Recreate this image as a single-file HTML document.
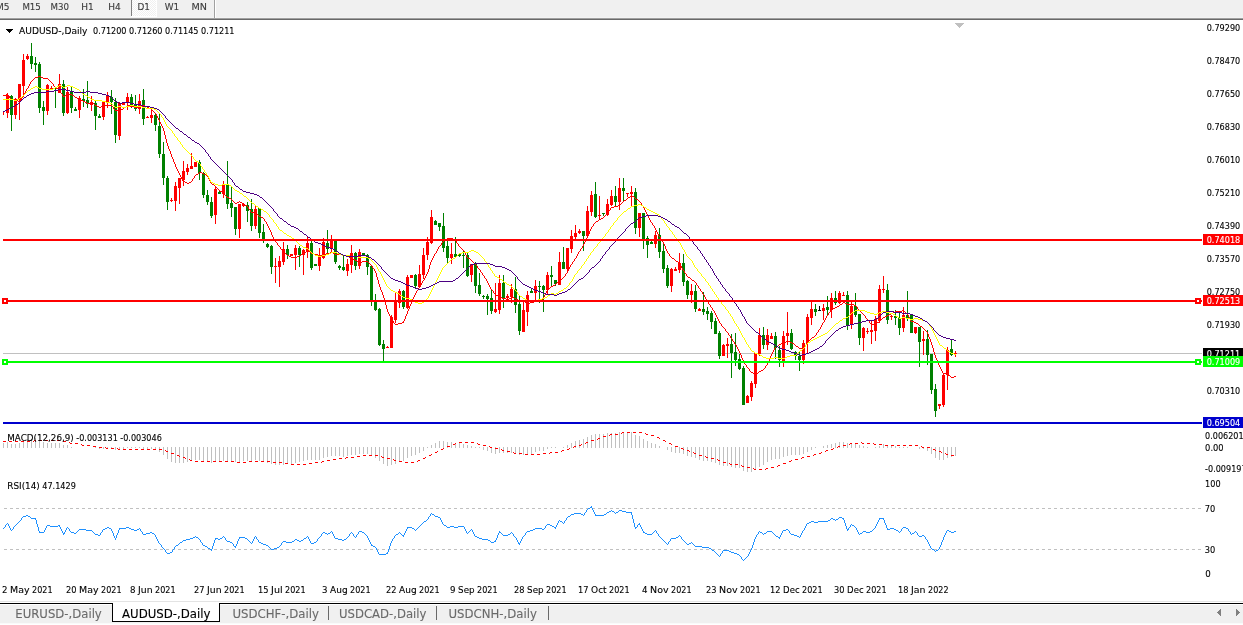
<!DOCTYPE html>
<html><head><meta charset="utf-8"><title>AUDUSD-,Daily</title><style>
html,body{margin:0;padding:0;background:#fff;}
body{width:1243px;height:625px;overflow:hidden;position:relative;font-family:"DejaVu Sans Condensed","Liberation Sans",sans-serif;}
svg{position:absolute;left:0;top:0;display:block;}
svg text{font-family:"DejaVu Sans Condensed","Liberation Sans",sans-serif;font-size:9.2px;white-space:pre;fill:#000;stroke:#000;stroke-width:0.1px;}
svg text.tab{font-size:12.2px;}
</style></head><body>
<svg width="1243" height="625" viewBox="0 0 1243 625">
<rect x="0" y="0" width="1243" height="625" fill="#fff"/>
<defs><pattern id="chk" width="2" height="2" patternUnits="userSpaceOnUse"><rect width="2" height="2" fill="#fff"/><rect width="1" height="1" fill="#f0f0f0"/><rect x="1" y="1" width="1" height="1" fill="#f0f0f0"/></pattern></defs>
<g shape-rendering="crispEdges">
<rect x="0" y="0" width="1243" height="17" fill="#f0f0f0"/>
<rect x="0" y="17" width="1243" height="1" fill="#f3f3f3"/>
<rect x="131" y="0" width="1" height="16" fill="#808080"/>
<rect x="132" y="0" width="24" height="16" fill="url(#chk)"/>
<rect x="156" y="0" width="1" height="17" fill="#fff"/>
<rect x="131" y="16" width="26" height="1" fill="#fff"/>
<rect x="214" y="0" width="1" height="18" fill="#a0a0a0"/>
<rect x="215" y="0" width="1" height="18" fill="#fff"/>
<rect x="0" y="18" width="1243" height="1" fill="#a0a0a0"/>
<rect x="0" y="19" width="1243" height="1" fill="#696969"/>
</g>
<text y="10" style="fill:#3c3c3c;stroke:#3c3c3c"><tspan x="-4" textLength="13.5" lengthAdjust="spacingAndGlyphs">M5</tspan></text>
<text y="10" style="fill:#3c3c3c;stroke:#3c3c3c"><tspan x="22.4" textLength="18.5" lengthAdjust="spacingAndGlyphs">M15</tspan></text>
<text y="10" style="fill:#3c3c3c;stroke:#3c3c3c"><tspan x="50.5" textLength="18.5" lengthAdjust="spacingAndGlyphs">M30</tspan></text>
<text y="10" style="fill:#3c3c3c;stroke:#3c3c3c"><tspan x="81.2" textLength="12.5" lengthAdjust="spacingAndGlyphs">H1</tspan></text>
<text y="10" style="fill:#3c3c3c;stroke:#3c3c3c"><tspan x="108.2" textLength="12.5" lengthAdjust="spacingAndGlyphs">H4</tspan></text>
<text y="10" style="fill:#3c3c3c;stroke:#3c3c3c"><tspan x="137.5" textLength="12.5" lengthAdjust="spacingAndGlyphs">D1</tspan></text>
<text y="10" style="fill:#3c3c3c;stroke:#3c3c3c"><tspan x="164.8" textLength="14.5" lengthAdjust="spacingAndGlyphs">W1</tspan></text>
<text y="10" style="fill:#3c3c3c;stroke:#3c3c3c"><tspan x="191.4" textLength="15.5" lengthAdjust="spacingAndGlyphs">MN</tspan></text>
<path shape-rendering="crispEdges" d="M6 29h7v1h-7zM7 30h5v1h-5zM8 31h3v1h-3zM9 32h1v1h-1z" fill="#000"/>
<text y="34"><tspan x="19" textLength="68.5" lengthAdjust="spacingAndGlyphs">AUDUSD-,Daily</tspan> <tspan x="93" textLength="33.5" lengthAdjust="spacingAndGlyphs">0.71200</tspan> <tspan x="129" textLength="33.5" lengthAdjust="spacingAndGlyphs">0.71260</tspan> <tspan x="165" textLength="33.5" lengthAdjust="spacingAndGlyphs">0.71145</tspan> <tspan x="201" textLength="33.5" lengthAdjust="spacingAndGlyphs">0.71211</tspan></text>
<path shape-rendering="crispEdges" d="M955 23h9v1h-9zM956 24h7v1h-7zM957 25h5v1h-5zM958 26h3v1h-3zM959 27h1v1h-1z" fill="#c0c0c0"/>
<text y="31"><tspan x="1206.7" textLength="33.5" lengthAdjust="spacingAndGlyphs">0.79290</tspan></text>
<text y="64"><tspan x="1206.7" textLength="33.5" lengthAdjust="spacingAndGlyphs">0.78470</tspan></text>
<text y="97"><tspan x="1206.7" textLength="33.5" lengthAdjust="spacingAndGlyphs">0.77650</tspan></text>
<text y="130"><tspan x="1206.7" textLength="33.5" lengthAdjust="spacingAndGlyphs">0.76830</tspan></text>
<text y="163"><tspan x="1206.7" textLength="33.5" lengthAdjust="spacingAndGlyphs">0.76010</tspan></text>
<text y="196"><tspan x="1206.7" textLength="33.5" lengthAdjust="spacingAndGlyphs">0.75210</tspan></text>
<text y="229"><tspan x="1206.7" textLength="33.5" lengthAdjust="spacingAndGlyphs">0.74390</tspan></text>
<text y="262"><tspan x="1206.7" textLength="33.5" lengthAdjust="spacingAndGlyphs">0.73570</tspan></text>
<text y="295"><tspan x="1206.7" textLength="33.5" lengthAdjust="spacingAndGlyphs">0.72750</tspan></text>
<text y="328"><tspan x="1206.7" textLength="33.5" lengthAdjust="spacingAndGlyphs">0.71930</tspan></text>
<text y="394"><tspan x="1206.7" textLength="33.5" lengthAdjust="spacingAndGlyphs">0.70310</tspan></text>
<g shape-rendering="crispEdges">
<rect x="3" y="353" width="1199" height="1" fill="#c0c0c0"/>
</g>
<g shape-rendering="crispEdges">
<path fill="#ff0000" d="M3 111h1v4h-1zM7 93h1v25h-1zM6 95h3v18h-3zM15 98h1v21h-1zM14 99h3v16h-3zM19 84h1v36h-1zM18 84h3v16h-3zM23 54h1v43h-1zM22 60h3v26h-3zM27 54h1v6h-1zM26 56h3v3h-3zM47 84h1v31h-1zM46 85h3v26h-3zM51 86h1v3h-1zM50 88h3v1h-3zM59 74h1v19h-1zM58 84h3v9h-3zM67 87h1v27h-1zM66 92h3v21h-3zM79 96h1v22h-1zM78 98h3v12h-3zM91 96h1v15h-1zM90 102h3v3h-3zM103 101h1v19h-1zM102 102h3v15h-3zM107 92h1v16h-1zM106 96h3v6h-3zM119 102h1v38h-1zM118 103h3v33h-3zM123 102h1v3h-1zM122 103h3v2h-3zM127 93h1v17h-1zM126 97h3v6h-3zM139 94h1v20h-1zM138 101h3v8h-3zM147 116h1v2h-1zM146 117h3v1h-3zM151 109h1v14h-1zM150 115h3v3h-3zM171 198h1v4h-1zM170 200h3v1h-3zM175 182h1v29h-1zM174 186h3v15h-3zM179 178h1v26h-1zM178 178h3v10h-3zM183 161h1v25h-1zM182 171h3v9h-3zM187 164h1v11h-1zM186 168h3v4h-3zM191 153h1v16h-1zM190 166h3v3h-3zM195 162h1v5h-1zM194 162h3v5h-3zM215 186h1v38h-1zM214 189h3v26h-3zM223 181h1v17h-1zM222 185h3v9h-3zM239 204h1v34h-1zM238 204h3v25h-3zM243 203h1v4h-1zM242 204h3v2h-3zM255 206h1v23h-1zM254 209h3v17h-3zM275 258h1v25h-1zM274 266h3v1h-3zM279 256h1v31h-1zM278 261h3v6h-3zM283 242h1v23h-1zM282 249h3v13h-3zM291 254h1v2h-1zM290 254h3v2h-3zM295 245h1v25h-1zM294 248h3v7h-3zM303 249h1v26h-1zM302 250h3v5h-3zM307 237h1v21h-1zM306 243h3v9h-3zM319 248h1v23h-1zM318 255h3v11h-3zM323 238h1v21h-1zM322 242h3v16h-3zM331 235h1v17h-1zM330 241h3v8h-3zM347 259h1v17h-1zM346 264h3v7h-3zM351 245h1v28h-1zM350 253h3v12h-3zM359 249h1v20h-1zM358 252h3v14h-3zM387 346h1v2h-1zM386 347h3v1h-3zM391 315h1v33h-1zM390 317h3v31h-3zM395 293h1v30h-1zM394 302h3v18h-3zM399 289h1v19h-1zM398 291h3v12h-3zM407 275h1v34h-1zM406 277h3v31h-3zM411 275h1v3h-1zM410 275h3v3h-3zM419 265h1v23h-1zM418 274h3v13h-3zM423 248h1v31h-1zM422 255h3v20h-3zM427 237h1v23h-1zM426 242h3v13h-3zM431 210h1v34h-1zM430 217h3v26h-3zM451 243h1v21h-1zM450 254h3v4h-3zM471 264h1v18h-1zM470 264h3v11h-3zM495 283h1v30h-1zM494 309h3v3h-3zM499 275h1v39h-1zM498 283h3v27h-3zM507 294h1v6h-1zM506 296h3v2h-3zM511 284h1v19h-1zM510 289h3v8h-3zM523 302h1v30h-1zM522 310h3v22h-3zM527 291h1v35h-1zM526 295h3v17h-3zM535 280h1v20h-1zM534 286h3v7h-3zM547 272h1v22h-1zM546 275h3v15h-3zM559 252h1v33h-1zM558 262h3v23h-3zM567 248h1v23h-1zM566 248h3v21h-3zM571 230h1v23h-1zM570 236h3v13h-3zM575 225h1v14h-1zM574 233h3v4h-3zM579 229h1v5h-1zM578 231h3v2h-3zM587 206h1v31h-1zM586 211h3v25h-3zM591 191h1v25h-1zM590 195h3v17h-3zM599 196h1v23h-1zM598 215h3v1h-3zM607 199h1v17h-1zM606 204h3v11h-3zM611 190h1v16h-1zM610 196h3v9h-3zM619 178h1v32h-1zM618 188h3v14h-3zM627 193h1v4h-1zM626 193h3v1h-3zM631 186h1v20h-1zM630 192h3v2h-3zM639 213h1v24h-1zM638 213h3v15h-3zM655 231h1v17h-1zM654 235h3v9h-3zM671 268h1v24h-1zM670 269h3v17h-3zM675 267h1v4h-1zM674 269h3v2h-3zM679 253h1v20h-1zM678 263h3v7h-3zM691 284h1v19h-1zM690 291h3v4h-3zM699 308h1v3h-1zM698 309h3v2h-3zM723 344h1v12h-1zM722 345h3v11h-3zM727 338h1v20h-1zM726 344h3v2h-3zM747 395h1v8h-1zM746 396h3v7h-3zM751 381h1v20h-1zM750 383h3v14h-3zM755 353h1v35h-1zM754 353h3v31h-3zM759 328h1v28h-1zM758 335h3v19h-3zM767 329h1v21h-1zM766 335h3v10h-3zM771 333h1v6h-1zM770 336h3v3h-3zM783 331h1v36h-1zM782 336h3v25h-3zM787 312h1v33h-1zM786 333h3v3h-3zM803 340h1v24h-1zM802 343h3v17h-3zM807 314h1v40h-1zM806 317h3v26h-3zM811 302h1v23h-1zM810 309h3v9h-3zM823 304h1v16h-1zM822 308h3v3h-3zM831 293h1v25h-1zM830 298h3v12h-3zM839 291h1v13h-1zM838 293h3v10h-3zM843 292h1v4h-1zM842 295h3v1h-3zM851 302h1v27h-1zM850 306h3v18h-3zM863 327h1v24h-1zM862 328h3v10h-3zM867 328h1v6h-1zM866 331h3v1h-3zM871 321h1v23h-1zM870 330h3v2h-3zM875 316h1v25h-1zM874 319h3v12h-3zM879 285h1v38h-1zM878 289h3v32h-3zM883 276h1v17h-1zM882 289h3v1h-3zM891 315h1v5h-1zM890 316h3v1h-3zM903 307h1v25h-1zM902 315h3v13h-3zM915 327h1v7h-1zM914 327h3v6h-3zM923 331h1v24h-1zM922 339h3v2h-3zM939 404h1v5h-1zM938 404h3v2h-3zM943 374h1v33h-1zM942 375h3v30h-3zM947 347h1v43h-1zM946 350h3v25h-3zM955 351h1v6h-1zM954 353h3v1h-3z"/>
<path fill="#008000" d="M11 95h1v36h-1zM10 96h3v19h-3zM31 43h1v26h-1zM30 56h3v8h-3zM35 57h1v15h-1zM34 63h3v2h-3zM39 62h1v51h-1zM38 64h3v44h-3zM43 101h1v24h-1zM42 107h3v4h-3zM55 88h1v20h-1zM54 88h3v1h-3zM63 80h1v36h-1zM62 84h3v29h-3zM71 87h1v26h-1zM70 91h3v17h-3zM75 107h1v4h-1zM74 109h3v2h-3zM83 89h1v18h-1zM82 99h3v2h-3zM87 81h1v27h-1zM86 100h3v4h-3zM95 101h1v29h-1zM94 103h3v13h-3zM99 114h1v4h-1zM98 116h3v2h-3zM111 90h1v24h-1zM110 97h3v5h-3zM115 98h1v45h-1zM114 102h3v33h-3zM131 94h1v14h-1zM130 97h3v9h-3zM135 95h1v16h-1zM134 105h3v4h-3zM143 89h1v36h-1zM142 100h3v19h-3zM155 114h1v17h-1zM154 115h3v10h-3zM159 114h1v44h-1zM158 126h3v28h-3zM163 142h1v43h-1zM162 154h3v24h-3zM167 176h1v34h-1zM166 178h3v24h-3zM199 160h1v20h-1zM198 162h3v11h-3zM203 172h1v26h-1zM202 173h3v22h-3zM207 190h1v15h-1zM206 195h3v7h-3zM211 197h1v21h-1zM210 202h3v14h-3zM219 191h1v3h-1zM218 192h3v2h-3zM227 161h1v48h-1zM226 184h3v20h-3zM231 186h1v31h-1zM230 203h3v5h-3zM235 207h1v28h-1zM234 207h3v22h-3zM247 202h1v20h-1zM246 205h3v6h-3zM251 199h1v32h-1zM250 209h3v17h-3zM259 208h1v30h-1zM258 208h3v25h-3zM263 224h1v19h-1zM262 232h3v9h-3zM267 243h1v5h-1zM266 244h3v3h-3zM271 245h1v29h-1zM270 246h3v21h-3zM287 245h1v14h-1zM286 249h3v6h-3zM299 246h1v21h-1zM298 248h3v7h-3zM311 241h1v29h-1zM310 243h3v25h-3zM315 264h1v2h-1zM314 264h3v2h-3zM327 230h1v23h-1zM326 243h3v6h-3zM335 241h1v23h-1zM334 241h3v21h-3zM339 265h1v5h-1zM338 266h3v2h-3zM343 255h1v16h-1zM342 267h3v3h-3zM355 252h1v18h-1zM354 253h3v13h-3zM363 253h1v3h-1zM362 253h3v2h-3zM367 254h1v21h-1zM366 255h3v12h-3zM371 266h1v40h-1zM370 266h3v34h-3zM375 294h1v17h-1zM374 302h3v8h-3zM379 308h1v38h-1zM378 309h3v36h-3zM383 340h1v21h-1zM382 344h3v5h-3zM403 290h1v19h-1zM402 291h3v16h-3zM415 274h1v14h-1zM414 275h3v11h-3zM435 220h1v5h-1zM434 221h3v4h-3zM439 223h1v8h-1zM438 223h3v4h-3zM443 213h1v39h-1zM442 226h3v22h-3zM447 239h1v24h-1zM446 246h3v12h-3zM455 237h1v20h-1zM454 254h3v3h-3zM459 253h1v4h-1zM458 254h3v2h-3zM463 251h1v17h-1zM462 255h3v1h-3zM467 253h1v24h-1zM466 255h3v21h-3zM475 262h1v31h-1zM474 264h3v22h-3zM479 273h1v23h-1zM478 285h3v9h-3zM483 295h1v4h-1zM482 296h3v1h-3zM487 294h1v21h-1zM486 296h3v3h-3zM491 289h1v25h-1zM490 298h3v13h-3zM503 275h1v33h-1zM502 283h3v15h-3zM515 277h1v36h-1zM514 289h3v16h-3zM519 296h1v39h-1zM518 304h3v27h-3zM531 289h1v4h-1zM530 291h3v2h-3zM539 281h1v22h-1zM538 286h3v1h-3zM543 285h1v27h-1zM542 286h3v4h-3zM551 266h1v21h-1zM550 275h3v2h-3zM555 280h1v6h-1zM554 280h3v4h-3zM563 247h1v22h-1zM562 262h3v7h-3zM583 231h1v20h-1zM582 231h3v5h-3zM595 182h1v36h-1zM594 194h3v23h-3zM603 213h1v3h-1zM602 213h3v1h-3zM615 186h1v20h-1zM614 196h3v6h-3zM623 178h1v23h-1zM622 188h3v3h-3zM635 188h1v46h-1zM634 192h3v36h-3zM643 213h1v36h-1zM642 213h3v26h-3zM647 236h1v22h-1zM646 238h3v7h-3zM651 241h1v3h-1zM650 242h3v2h-3zM659 228h1v30h-1zM658 235h3v17h-3zM663 243h1v30h-1zM662 251h3v18h-3zM667 265h1v23h-1zM666 268h3v18h-3zM683 254h1v32h-1zM682 263h3v19h-3zM687 280h1v19h-1zM686 281h3v14h-3zM695 285h1v27h-1zM694 291h3v18h-3zM703 292h1v23h-1zM702 309h3v3h-3zM707 307h1v13h-1zM706 311h3v3h-3zM711 311h1v18h-1zM710 313h3v9h-3zM715 318h1v16h-1zM714 321h3v13h-3zM719 331h1v28h-1zM718 333h3v23h-3zM731 334h1v44h-1zM730 344h3v9h-3zM735 333h1v33h-1zM734 352h3v8h-3zM739 354h1v16h-1zM738 359h3v10h-3zM743 366h1v39h-1zM742 368h3v37h-3zM763 327h1v22h-1zM762 335h3v10h-3zM775 332h1v27h-1zM774 336h3v12h-3zM779 346h1v21h-1zM778 350h3v10h-3zM791 329h1v21h-1zM790 333h3v16h-3zM795 351h1v9h-1zM794 352h3v4h-3zM799 351h1v20h-1zM798 356h3v4h-3zM815 304h1v12h-1zM814 309h3v3h-3zM827 296h1v19h-1zM826 307h3v3h-3zM835 291h1v14h-1zM834 298h3v5h-3zM847 291h1v39h-1zM846 295h3v30h-3zM855 293h1v24h-1zM854 306h3v9h-3zM859 314h1v31h-1zM858 314h3v24h-3zM887 284h1v40h-1zM886 290h3v30h-3zM895 310h1v15h-1zM894 316h3v2h-3zM899 313h1v22h-1zM898 318h3v10h-3zM907 291h1v30h-1zM906 315h3v3h-3zM911 314h1v19h-1zM910 314h3v19h-3zM919 327h1v40h-1zM918 327h3v15h-3zM927 330h1v35h-1zM926 339h3v16h-3zM931 354h1v40h-1zM930 354h3v36h-3zM935 384h1v33h-1zM934 389h3v22h-3zM951 340h1v16h-1zM950 349h3v6h-3z"/>
<path fill="#000000" d="M819 306h1v5h-1zM818 310h3v1h-3z"/>
<path fill="#ff0000" d="M9 96h1v2h-1zM21 98h1v2h-1zM23 95h1v2h-1zM24 93h1v2h-1zM25 91h1v2h-1zM26 89h1v2h-1zM28 86h1v2h-1zM29 84h1v2h-1zM30 82h1v2h-1zM53 84h1v2h-1zM60 91h1v2h-1zM62 94h1v2h-1zM113 107h1v2h-1zM156 114h1v2h-1zM157 116h1v2h-1zM158 118h1v2h-1zM159 120h1v2h-1zM160 122h1v2h-1zM161 124h1v2h-1zM162 126h1v2h-1zM163 128h1v3h-1zM164 131h1v4h-1zM165 135h1v4h-1zM166 139h1v4h-1zM167 143h1v3h-1zM168 146h1v3h-1zM169 149h1v2h-1zM170 151h1v3h-1zM171 154h1v3h-1zM172 157h1v2h-1zM173 159h1v3h-1zM174 162h1v2h-1zM175 164h1v3h-1zM176 167h1v2h-1zM177 169h1v2h-1zM178 171h1v2h-1zM179 173h1v2h-1zM180 175h1v2h-1zM181 177h1v2h-1zM182 179h1v2h-1zM192 179h1v2h-1zM194 176h1v2h-1zM208 177h1v2h-1zM209 179h1v2h-1zM210 181h1v2h-1zM248 207h1v2h-1zM250 210h1v2h-1zM264 219h1v2h-1zM266 222h1v2h-1zM267 224h1v2h-1zM268 226h1v2h-1zM269 228h1v2h-1zM270 230h1v2h-1zM271 232h1v3h-1zM272 235h1v2h-1zM273 237h1v2h-1zM274 239h1v2h-1zM277 243h1v2h-1zM280 247h1v2h-1zM282 250h1v2h-1zM372 266h1v2h-1zM374 269h1v2h-1zM375 271h1v2h-1zM376 273h1v4h-1zM377 277h1v3h-1zM378 280h1v4h-1zM379 284h1v3h-1zM380 287h1v3h-1zM381 290h1v2h-1zM382 292h1v3h-1zM383 295h1v3h-1zM384 298h1v4h-1zM385 302h1v3h-1zM386 305h1v4h-1zM387 309h1v3h-1zM388 312h1v2h-1zM389 314h1v2h-1zM390 316h1v2h-1zM391 318h1v2h-1zM393 321h1v2h-1zM403 321h1v2h-1zM404 319h1v2h-1zM405 316h1v3h-1zM406 314h1v2h-1zM407 311h1v3h-1zM408 309h1v2h-1zM409 306h1v3h-1zM410 304h1v2h-1zM411 301h1v3h-1zM412 299h1v2h-1zM413 297h1v2h-1zM414 295h1v2h-1zM415 293h1v2h-1zM416 291h1v2h-1zM418 288h1v2h-1zM420 285h1v2h-1zM421 283h1v2h-1zM422 281h1v2h-1zM424 278h1v2h-1zM425 276h1v2h-1zM426 274h1v2h-1zM427 272h1v2h-1zM428 269h1v3h-1zM429 265h1v4h-1zM430 262h1v3h-1zM431 260h1v2h-1zM432 258h1v2h-1zM433 256h1v2h-1zM434 254h1v2h-1zM436 251h1v2h-1zM437 249h1v2h-1zM438 247h1v2h-1zM441 243h1v2h-1zM456 241h1v2h-1zM458 244h1v2h-1zM464 251h1v2h-1zM465 253h1v2h-1zM466 255h1v2h-1zM477 266h1v2h-1zM480 270h1v2h-1zM482 273h1v2h-1zM484 276h1v2h-1zM486 279h1v2h-1zM487 281h1v2h-1zM488 283h1v2h-1zM489 285h1v2h-1zM490 287h1v2h-1zM493 291h1v2h-1zM543 297h1v2h-1zM544 295h1v2h-1zM545 293h1v2h-1zM546 291h1v2h-1zM565 274h1v2h-1zM567 271h1v2h-1zM568 269h1v2h-1zM569 267h1v2h-1zM570 265h1v2h-1zM572 262h1v2h-1zM574 259h1v2h-1zM576 256h1v2h-1zM577 254h1v2h-1zM578 252h1v2h-1zM580 249h1v2h-1zM582 246h1v2h-1zM583 244h1v2h-1zM584 242h1v2h-1zM585 240h1v2h-1zM586 238h1v2h-1zM587 236h1v2h-1zM588 234h1v2h-1zM589 231h1v3h-1zM590 229h1v2h-1zM591 227h1v2h-1zM593 224h1v2h-1zM608 211h1v2h-1zM610 208h1v2h-1zM641 203h1v2h-1zM643 206h1v2h-1zM644 208h1v2h-1zM645 210h1v2h-1zM646 212h1v2h-1zM647 214h1v2h-1zM648 216h1v2h-1zM649 218h1v2h-1zM650 220h1v2h-1zM652 223h1v2h-1zM654 226h1v2h-1zM655 228h1v2h-1zM656 230h1v2h-1zM657 232h1v2h-1zM658 234h1v2h-1zM660 237h1v2h-1zM662 240h1v2h-1zM663 242h1v2h-1zM664 244h1v2h-1zM665 246h1v3h-1zM666 249h1v2h-1zM667 251h1v2h-1zM669 254h1v2h-1zM680 264h1v2h-1zM681 266h1v2h-1zM682 268h1v2h-1zM684 271h1v2h-1zM686 274h1v2h-1zM696 283h1v2h-1zM698 286h1v2h-1zM700 289h1v2h-1zM702 292h1v2h-1zM704 295h1v2h-1zM705 297h1v2h-1zM706 299h1v2h-1zM708 302h1v2h-1zM710 305h1v2h-1zM712 308h1v2h-1zM714 311h1v2h-1zM715 313h1v2h-1zM716 315h1v2h-1zM717 317h1v2h-1zM718 319h1v2h-1zM719 321h1v2h-1zM721 324h1v2h-1zM725 329h1v2h-1zM728 333h1v2h-1zM730 336h1v2h-1zM732 339h1v2h-1zM734 342h1v2h-1zM736 345h1v2h-1zM737 347h1v2h-1zM738 349h1v2h-1zM739 351h1v2h-1zM740 353h1v2h-1zM741 355h1v3h-1zM742 358h1v2h-1zM743 360h1v2h-1zM744 362h1v2h-1zM746 365h1v2h-1zM749 369h1v2h-1zM765 366h1v2h-1zM767 363h1v2h-1zM768 361h1v2h-1zM769 358h1v3h-1zM770 356h1v2h-1zM771 354h1v2h-1zM772 352h1v2h-1zM773 350h1v2h-1zM774 348h1v2h-1zM804 346h1v2h-1zM806 343h1v2h-1zM816 333h1v2h-1zM818 330h1v2h-1zM820 327h1v2h-1zM821 325h1v2h-1zM822 323h1v2h-1zM824 320h1v2h-1zM825 318h1v2h-1zM826 316h1v2h-1zM828 313h1v2h-1zM830 310h1v2h-1zM857 307h1v2h-1zM865 316h1v2h-1zM869 321h1v2h-1zM908 315h1v2h-1zM909 317h1v2h-1zM910 319h1v2h-1zM927 332h1v2h-1zM928 334h1v3h-1zM929 337h1v2h-1zM930 339h1v3h-1zM931 342h1v3h-1zM932 345h1v3h-1zM933 348h1v4h-1zM934 352h1v3h-1zM935 355h1v3h-1zM936 358h1v2h-1zM937 360h1v3h-1zM938 363h1v2h-1zM939 365h1v2h-1zM940 367h1v2h-1zM941 369h1v2h-1zM942 371h1v2h-1zM38 76h3v1h-3zM35 77h3v1h-3zM41 77h2v1h-2zM34 78h1v1h-1zM43 78h5v1h-5zM33 79h1v1h-1zM48 79h1v1h-1zM32 80h1v1h-1zM49 80h1v1h-1zM31 81h1v1h-1zM50 81h1v1h-1zM51 82h1v1h-1zM52 83h1v1h-1zM54 86h1v1h-1zM55 87h1v1h-1zM27 88h1v1h-1zM56 88h2v1h-2zM58 89h1v1h-1zM59 90h1v1h-1zM61 93h1v1h-1zM6 94h2v1h-2zM67 94h5v1h-5zM3 95h3v1h-3zM8 95h1v1h-1zM65 95h2v1h-2zM72 95h2v1h-2zM63 96h2v1h-2zM74 96h1v1h-1zM22 97h1v1h-1zM75 97h2v1h-2zM10 98h1v1h-1zM77 98h2v1h-2zM11 99h3v1h-3zM79 99h2v1h-2zM14 100h4v1h-4zM20 100h1v1h-1zM81 100h2v1h-2zM18 101h2v1h-2zM83 101h2v1h-2zM85 102h2v1h-2zM90 102h2v1h-2zM87 103h3v1h-3zM92 103h2v1h-2zM94 104h1v1h-1zM95 105h2v1h-2zM103 105h9v1h-9zM127 105h3v1h-3zM143 105h2v1h-2zM97 106h2v1h-2zM101 106h2v1h-2zM112 106h1v1h-1zM126 106h1v1h-1zM130 106h4v1h-4zM141 106h2v1h-2zM145 106h2v1h-2zM99 107h2v1h-2zM124 107h2v1h-2zM134 107h7v1h-7zM147 107h2v1h-2zM123 108h1v1h-1zM149 108h2v1h-2zM114 109h1v1h-1zM121 109h2v1h-2zM151 109h1v1h-1zM115 110h6v1h-6zM152 110h1v1h-1zM153 111h1v1h-1zM154 112h1v1h-1zM155 113h1v1h-1zM199 172h3v1h-3zM198 173h1v1h-1zM202 173h2v1h-2zM196 174h2v1h-2zM204 174h2v1h-2zM195 175h1v1h-1zM206 175h1v1h-1zM207 176h1v1h-1zM193 178h1v1h-1zM183 181h2v1h-2zM191 181h1v1h-1zM185 182h2v1h-2zM189 182h2v1h-2zM187 183h2v1h-2zM211 183h1v1h-1zM212 184h2v1h-2zM214 185h1v1h-1zM215 186h1v1h-1zM216 187h1v1h-1zM217 188h1v1h-1zM218 189h1v1h-1zM219 190h1v1h-1zM220 191h2v1h-2zM222 192h1v1h-1zM223 193h1v1h-1zM224 194h1v1h-1zM225 195h1v1h-1zM631 195h1v1h-1zM226 196h1v1h-1zM630 196h1v1h-1zM632 196h2v1h-2zM227 197h2v1h-2zM628 197h2v1h-2zM634 197h1v1h-1zM229 198h2v1h-2zM627 198h1v1h-1zM635 198h1v1h-1zM231 199h1v1h-1zM626 199h1v1h-1zM636 199h2v1h-2zM232 200h1v1h-1zM624 200h2v1h-2zM638 200h1v1h-1zM233 201h1v1h-1zM239 201h1v1h-1zM623 201h1v1h-1zM639 201h1v1h-1zM234 202h1v1h-1zM237 202h2v1h-2zM240 202h2v1h-2zM622 202h1v1h-1zM640 202h1v1h-1zM235 203h2v1h-2zM242 203h1v1h-1zM621 203h1v1h-1zM243 204h2v1h-2zM620 204h1v1h-1zM245 205h2v1h-2zM618 205h2v1h-2zM642 205h1v1h-1zM247 206h1v1h-1zM614 206h4v1h-4zM611 207h3v1h-3zM249 209h1v1h-1zM609 210h1v1h-1zM251 212h3v1h-3zM254 213h2v1h-2zM607 213h1v1h-1zM256 214h2v1h-2zM606 214h1v1h-1zM258 215h1v1h-1zM605 215h1v1h-1zM259 216h2v1h-2zM604 216h1v1h-1zM261 217h2v1h-2zM603 217h1v1h-1zM263 218h1v1h-1zM601 218h2v1h-2zM599 219h2v1h-2zM598 220h1v1h-1zM265 221h1v1h-1zM596 221h2v1h-2zM595 222h1v1h-1zM651 222h1v1h-1zM594 223h1v1h-1zM653 225h1v1h-1zM592 226h1v1h-1zM659 236h1v1h-1zM447 238h6v1h-6zM446 239h1v1h-1zM453 239h2v1h-2zM661 239h1v1h-1zM444 240h2v1h-2zM455 240h1v1h-1zM275 241h1v1h-1zM443 241h1v1h-1zM276 242h1v1h-1zM442 242h1v1h-1zM457 243h1v1h-1zM278 245h1v1h-1zM440 245h1v1h-1zM279 246h1v1h-1zM439 246h1v1h-1zM459 246h1v1h-1zM460 247h1v1h-1zM461 248h1v1h-1zM581 248h1v1h-1zM281 249h1v1h-1zM462 249h1v1h-1zM307 250h1v1h-1zM463 250h1v1h-1zM306 251h1v1h-1zM308 251h2v1h-2zM579 251h1v1h-1zM283 252h1v1h-1zM304 252h2v1h-2zM310 252h1v1h-1zM330 252h3v1h-3zM284 253h2v1h-2zM303 253h1v1h-1zM311 253h3v1h-3zM326 253h4v1h-4zM333 253h2v1h-2zM435 253h1v1h-1zM668 253h1v1h-1zM286 254h1v1h-1zM301 254h2v1h-2zM314 254h4v1h-4zM322 254h4v1h-4zM335 254h7v1h-7zM287 255h2v1h-2zM299 255h2v1h-2zM318 255h4v1h-4zM342 255h4v1h-4zM289 256h2v1h-2zM297 256h2v1h-2zM346 256h3v1h-3zM670 256h1v1h-1zM291 257h6v1h-6zM349 257h2v1h-2zM467 257h1v1h-1zM671 257h1v1h-1zM351 258h2v1h-2zM468 258h2v1h-2zM575 258h1v1h-1zM672 258h2v1h-2zM353 259h2v1h-2zM470 259h1v1h-1zM674 259h1v1h-1zM355 260h2v1h-2zM471 260h1v1h-1zM675 260h1v1h-1zM357 261h2v1h-2zM362 261h6v1h-6zM472 261h1v1h-1zM573 261h1v1h-1zM676 261h2v1h-2zM359 262h3v1h-3zM368 262h1v1h-1zM473 262h1v1h-1zM678 262h1v1h-1zM369 263h1v1h-1zM474 263h1v1h-1zM679 263h1v1h-1zM370 264h1v1h-1zM475 264h1v1h-1zM571 264h1v1h-1zM371 265h1v1h-1zM476 265h1v1h-1zM373 268h1v1h-1zM478 268h1v1h-1zM479 269h1v1h-1zM683 270h1v1h-1zM481 272h1v1h-1zM566 273h1v1h-1zM685 273h1v1h-1zM483 275h1v1h-1zM564 276h1v1h-1zM687 276h1v1h-1zM563 277h1v1h-1zM688 277h2v1h-2zM485 278h1v1h-1zM562 278h1v1h-1zM690 278h1v1h-1zM560 279h2v1h-2zM691 279h1v1h-1zM423 280h1v1h-1zM559 280h1v1h-1zM692 280h2v1h-2zM558 281h1v1h-1zM694 281h1v1h-1zM557 282h1v1h-1zM695 282h1v1h-1zM556 283h1v1h-1zM555 284h1v1h-1zM553 285h2v1h-2zM697 285h1v1h-1zM551 286h2v1h-2zM419 287h1v1h-1zM550 287h1v1h-1zM549 288h1v1h-1zM699 288h1v1h-1zM491 289h1v1h-1zM548 289h1v1h-1zM417 290h1v1h-1zM492 290h1v1h-1zM547 290h1v1h-1zM701 291h1v1h-1zM494 293h1v1h-1zM495 294h1v1h-1zM703 294h1v1h-1zM496 295h2v1h-2zM498 296h1v1h-1zM499 297h3v1h-3zM511 297h3v1h-3zM502 298h4v1h-4zM509 298h2v1h-2zM514 298h2v1h-2zM506 299h3v1h-3zM516 299h2v1h-2zM542 299h1v1h-1zM518 300h1v1h-1zM540 300h2v1h-2zM519 301h6v1h-6zM534 301h6v1h-6zM707 301h1v1h-1zM525 302h2v1h-2zM530 302h4v1h-4zM843 302h2v1h-2zM527 303h3v1h-3zM842 303h1v1h-1zM845 303h2v1h-2zM709 304h1v1h-1zM840 304h2v1h-2zM847 304h7v1h-7zM839 305h1v1h-1zM854 305h2v1h-2zM837 306h2v1h-2zM856 306h1v1h-1zM711 307h1v1h-1zM835 307h2v1h-2zM833 308h2v1h-2zM831 309h2v1h-2zM858 309h1v1h-1zM713 310h1v1h-1zM859 310h1v1h-1zM902 310h2v1h-2zM860 311h1v1h-1zM895 311h7v1h-7zM904 311h1v1h-1zM829 312h1v1h-1zM861 312h1v1h-1zM893 312h2v1h-2zM905 312h1v1h-1zM862 313h1v1h-1zM891 313h2v1h-2zM906 313h1v1h-1zM863 314h1v1h-1zM889 314h2v1h-2zM907 314h1v1h-1zM827 315h1v1h-1zM864 315h1v1h-1zM887 315h2v1h-2zM885 316h2v1h-2zM883 317h2v1h-2zM866 318h1v1h-1zM882 318h1v1h-1zM867 319h1v1h-1zM881 319h1v1h-1zM392 320h1v1h-1zM868 320h1v1h-1zM880 320h1v1h-1zM879 321h1v1h-1zM911 321h3v1h-3zM402 322h1v1h-1zM823 322h1v1h-1zM877 322h2v1h-2zM914 322h2v1h-2zM394 323h1v1h-1zM398 323h4v1h-4zM720 323h1v1h-1zM870 323h1v1h-1zM874 323h3v1h-3zM916 323h2v1h-2zM395 324h3v1h-3zM871 324h3v1h-3zM918 324h1v1h-1zM919 325h1v1h-1zM722 326h1v1h-1zM920 326h2v1h-2zM723 327h1v1h-1zM922 327h1v1h-1zM724 328h1v1h-1zM923 328h1v1h-1zM819 329h1v1h-1zM924 329h1v1h-1zM925 330h1v1h-1zM726 331h1v1h-1zM926 331h1v1h-1zM727 332h1v1h-1zM817 332h1v1h-1zM729 335h1v1h-1zM815 335h1v1h-1zM814 336h1v1h-1zM812 337h2v1h-2zM731 338h1v1h-1zM811 338h1v1h-1zM810 339h1v1h-1zM809 340h1v1h-1zM733 341h1v1h-1zM786 341h4v1h-4zM808 341h1v1h-1zM783 342h3v1h-3zM790 342h2v1h-2zM807 342h1v1h-1zM781 343h2v1h-2zM792 343h2v1h-2zM735 344h1v1h-1zM779 344h2v1h-2zM794 344h1v1h-1zM778 345h1v1h-1zM795 345h1v1h-1zM805 345h1v1h-1zM776 346h2v1h-2zM796 346h2v1h-2zM775 347h1v1h-1zM798 347h1v1h-1zM799 348h5v1h-5zM745 364h1v1h-1zM766 365h1v1h-1zM747 367h1v1h-1zM748 368h1v1h-1zM764 368h1v1h-1zM763 369h1v1h-1zM761 370h2v1h-2zM750 371h1v1h-1zM759 371h2v1h-2zM751 372h2v1h-2zM758 372h1v1h-1zM753 373h2v1h-2zM756 373h2v1h-2zM943 373h3v1h-3zM755 374h1v1h-1zM946 374h2v1h-2zM948 375h2v1h-2zM950 376h1v1h-1zM954 376h2v1h-2zM951 377h3v1h-3z"/>
<path fill="#ffff00" d="M161 115h1v2h-1zM163 118h1v2h-1zM164 120h1v2h-1zM165 122h1v2h-1zM166 124h1v2h-1zM172 131h1v2h-1zM174 134h1v2h-1zM177 138h1v2h-1zM180 142h1v2h-1zM182 145h1v2h-1zM193 157h1v2h-1zM200 164h1v2h-1zM202 167h1v2h-1zM204 170h1v2h-1zM206 173h1v2h-1zM208 176h1v2h-1zM209 178h1v2h-1zM210 180h1v2h-1zM269 215h1v2h-1zM273 220h1v2h-1zM276 224h1v2h-1zM278 227h1v2h-1zM376 265h1v2h-1zM377 267h1v2h-1zM378 269h1v2h-1zM380 272h1v2h-1zM381 274h1v2h-1zM382 276h1v2h-1zM383 278h1v2h-1zM384 280h1v2h-1zM385 282h1v2h-1zM386 284h1v2h-1zM428 296h1v2h-1zM429 294h1v2h-1zM430 292h1v2h-1zM431 290h1v2h-1zM432 288h1v2h-1zM433 286h1v2h-1zM434 284h1v2h-1zM435 282h1v2h-1zM436 280h1v2h-1zM437 278h1v2h-1zM438 276h1v2h-1zM439 274h1v2h-1zM440 272h1v2h-1zM441 270h1v2h-1zM442 268h1v2h-1zM484 259h1v2h-1zM486 262h1v2h-1zM488 265h1v2h-1zM490 268h1v2h-1zM492 271h1v2h-1zM494 274h1v2h-1zM517 292h1v2h-1zM569 283h1v2h-1zM572 279h1v2h-1zM573 277h1v2h-1zM574 275h1v2h-1zM577 271h1v2h-1zM581 266h1v2h-1zM584 262h1v2h-1zM586 259h1v2h-1zM588 256h1v2h-1zM590 253h1v2h-1zM593 249h1v2h-1zM597 244h1v2h-1zM601 239h1v2h-1zM605 234h1v2h-1zM608 230h1v2h-1zM610 227h1v2h-1zM613 223h1v2h-1zM617 218h1v2h-1zM661 217h1v2h-1zM664 221h1v2h-1zM666 224h1v2h-1zM669 228h1v2h-1zM672 232h1v2h-1zM674 235h1v2h-1zM677 239h1v2h-1zM680 243h1v2h-1zM681 245h1v2h-1zM682 247h1v2h-1zM684 250h1v2h-1zM685 252h1v2h-1zM686 254h1v2h-1zM692 261h1v2h-1zM693 263h1v2h-1zM694 265h1v2h-1zM697 269h1v2h-1zM701 274h1v2h-1zM705 279h1v2h-1zM708 283h1v2h-1zM710 286h1v2h-1zM712 289h1v2h-1zM714 292h1v2h-1zM716 295h1v2h-1zM718 298h1v2h-1zM721 302h1v2h-1zM725 307h1v2h-1zM728 311h1v2h-1zM730 314h1v2h-1zM732 317h1v2h-1zM733 319h1v2h-1zM734 321h1v2h-1zM736 324h1v2h-1zM738 327h1v2h-1zM739 329h1v2h-1zM740 331h1v2h-1zM741 333h1v2h-1zM742 335h1v2h-1zM744 338h1v2h-1zM745 340h1v2h-1zM746 342h1v2h-1zM748 345h1v2h-1zM750 348h1v2h-1zM805 345h1v2h-1zM929 324h1v2h-1zM931 327h1v2h-1zM932 329h1v2h-1zM933 331h1v2h-1zM934 333h1v2h-1zM935 335h1v2h-1zM936 337h1v2h-1zM937 339h1v2h-1zM938 341h1v2h-1zM939 343h1v2h-1zM59 85h2v1h-2zM67 85h3v1h-3zM35 86h2v1h-2zM57 86h2v1h-2zM61 86h2v1h-2zM65 86h2v1h-2zM70 86h3v1h-3zM33 87h2v1h-2zM37 87h2v1h-2zM55 87h2v1h-2zM63 87h2v1h-2zM73 87h2v1h-2zM31 88h2v1h-2zM39 88h3v1h-3zM53 88h2v1h-2zM75 88h2v1h-2zM30 89h1v1h-1zM42 89h11v1h-11zM77 89h2v1h-2zM28 90h2v1h-2zM79 90h1v1h-1zM27 91h1v1h-1zM80 91h1v1h-1zM26 92h1v1h-1zM81 92h1v1h-1zM25 93h1v1h-1zM82 93h1v1h-1zM24 94h1v1h-1zM83 94h2v1h-2zM23 95h1v1h-1zM85 95h2v1h-2zM22 96h1v1h-1zM87 96h1v1h-1zM20 97h2v1h-2zM88 97h2v1h-2zM19 98h1v1h-1zM90 98h1v1h-1zM3 99h11v1h-11zM17 99h2v1h-2zM91 99h3v1h-3zM14 100h3v1h-3zM94 100h8v1h-8zM102 101h4v1h-4zM106 102h4v1h-4zM110 103h2v1h-2zM112 104h1v1h-1zM113 105h1v1h-1zM130 105h4v1h-4zM114 106h1v1h-1zM118 106h4v1h-4zM126 106h4v1h-4zM134 106h8v1h-8zM115 107h3v1h-3zM122 107h4v1h-4zM142 107h4v1h-4zM146 108h8v1h-8zM154 109h2v1h-2zM156 110h1v1h-1zM157 111h1v1h-1zM158 112h1v1h-1zM159 113h1v1h-1zM160 114h1v1h-1zM162 117h1v1h-1zM167 126h1v1h-1zM168 127h1v1h-1zM169 128h1v1h-1zM170 129h1v1h-1zM171 130h1v1h-1zM173 133h1v1h-1zM175 136h1v1h-1zM176 137h1v1h-1zM178 140h1v1h-1zM179 141h1v1h-1zM181 144h1v1h-1zM183 147h1v1h-1zM184 148h1v1h-1zM185 149h1v1h-1zM186 150h1v1h-1zM187 151h1v1h-1zM188 152h1v1h-1zM189 153h1v1h-1zM190 154h1v1h-1zM191 155h1v1h-1zM192 156h1v1h-1zM194 159h1v1h-1zM195 160h1v1h-1zM196 161h2v1h-2zM198 162h1v1h-1zM199 163h1v1h-1zM201 166h1v1h-1zM203 169h1v1h-1zM205 172h1v1h-1zM207 175h1v1h-1zM211 182h2v1h-2zM213 183h2v1h-2zM215 184h3v1h-3zM222 184h7v1h-7zM218 185h4v1h-4zM229 185h2v1h-2zM231 186h1v1h-1zM232 187h1v1h-1zM233 188h1v1h-1zM234 189h1v1h-1zM235 190h2v1h-2zM237 191h2v1h-2zM239 192h1v1h-1zM240 193h2v1h-2zM242 194h1v1h-1zM243 195h1v1h-1zM244 196h2v1h-2zM246 197h1v1h-1zM247 198h1v1h-1zM248 199h1v1h-1zM249 200h1v1h-1zM250 201h1v1h-1zM251 202h1v1h-1zM252 203h2v1h-2zM254 204h1v1h-1zM638 204h3v1h-3zM255 205h1v1h-1zM634 205h4v1h-4zM641 205h2v1h-2zM256 206h2v1h-2zM631 206h3v1h-3zM643 206h1v1h-1zM258 207h1v1h-1zM630 207h1v1h-1zM644 207h2v1h-2zM259 208h2v1h-2zM628 208h2v1h-2zM646 208h1v1h-1zM261 209h2v1h-2zM627 209h1v1h-1zM647 209h2v1h-2zM263 210h1v1h-1zM626 210h1v1h-1zM649 210h2v1h-2zM264 211h2v1h-2zM624 211h2v1h-2zM651 211h2v1h-2zM266 212h1v1h-1zM623 212h1v1h-1zM653 212h2v1h-2zM267 213h1v1h-1zM622 213h1v1h-1zM655 213h2v1h-2zM268 214h1v1h-1zM621 214h1v1h-1zM657 214h2v1h-2zM620 215h1v1h-1zM659 215h1v1h-1zM619 216h1v1h-1zM660 216h1v1h-1zM270 217h1v1h-1zM618 217h1v1h-1zM271 218h1v1h-1zM272 219h1v1h-1zM662 219h1v1h-1zM616 220h1v1h-1zM663 220h1v1h-1zM615 221h1v1h-1zM274 222h1v1h-1zM614 222h1v1h-1zM275 223h1v1h-1zM665 223h1v1h-1zM612 225h1v1h-1zM277 226h1v1h-1zM611 226h1v1h-1zM667 226h1v1h-1zM668 227h1v1h-1zM279 229h1v1h-1zM609 229h1v1h-1zM280 230h2v1h-2zM670 230h1v1h-1zM282 231h1v1h-1zM671 231h1v1h-1zM283 232h1v1h-1zM607 232h1v1h-1zM284 233h2v1h-2zM606 233h1v1h-1zM286 234h1v1h-1zM673 234h1v1h-1zM287 235h2v1h-2zM289 236h2v1h-2zM604 236h1v1h-1zM291 237h1v1h-1zM603 237h1v1h-1zM675 237h1v1h-1zM292 238h2v1h-2zM602 238h1v1h-1zM676 238h1v1h-1zM294 239h1v1h-1zM295 240h1v1h-1zM296 241h1v1h-1zM600 241h1v1h-1zM678 241h1v1h-1zM297 242h1v1h-1zM599 242h1v1h-1zM679 242h1v1h-1zM298 243h1v1h-1zM598 243h1v1h-1zM299 244h1v1h-1zM300 245h2v1h-2zM302 246h1v1h-1zM596 246h1v1h-1zM303 247h3v1h-3zM595 247h1v1h-1zM306 248h2v1h-2zM594 248h1v1h-1zM308 249h1v1h-1zM683 249h1v1h-1zM309 250h1v1h-1zM471 250h3v1h-3zM310 251h1v1h-1zM469 251h2v1h-2zM474 251h2v1h-2zM592 251h1v1h-1zM311 252h1v1h-1zM331 252h6v1h-6zM462 252h7v1h-7zM476 252h2v1h-2zM591 252h1v1h-1zM312 253h2v1h-2zM329 253h2v1h-2zM337 253h2v1h-2zM459 253h3v1h-3zM478 253h1v1h-1zM314 254h1v1h-1zM326 254h3v1h-3zM339 254h3v1h-3zM458 254h1v1h-1zM479 254h1v1h-1zM315 255h3v1h-3zM322 255h4v1h-4zM342 255h8v1h-8zM457 255h1v1h-1zM480 255h1v1h-1zM589 255h1v1h-1zM318 256h4v1h-4zM350 256h8v1h-8zM456 256h1v1h-1zM481 256h1v1h-1zM687 256h1v1h-1zM358 257h10v1h-10zM455 257h1v1h-1zM482 257h1v1h-1zM688 257h1v1h-1zM368 258h2v1h-2zM453 258h2v1h-2zM483 258h1v1h-1zM587 258h1v1h-1zM689 258h1v1h-1zM370 259h1v1h-1zM451 259h2v1h-2zM690 259h1v1h-1zM371 260h1v1h-1zM450 260h1v1h-1zM691 260h1v1h-1zM372 261h1v1h-1zM449 261h1v1h-1zM485 261h1v1h-1zM585 261h1v1h-1zM373 262h1v1h-1zM448 262h1v1h-1zM374 263h1v1h-1zM447 263h1v1h-1zM375 264h1v1h-1zM446 264h1v1h-1zM487 264h1v1h-1zM583 264h1v1h-1zM445 265h1v1h-1zM582 265h1v1h-1zM444 266h1v1h-1zM443 267h1v1h-1zM489 267h1v1h-1zM695 267h1v1h-1zM580 268h1v1h-1zM696 268h1v1h-1zM579 269h1v1h-1zM491 270h1v1h-1zM578 270h1v1h-1zM379 271h1v1h-1zM698 271h1v1h-1zM699 272h1v1h-1zM493 273h1v1h-1zM576 273h1v1h-1zM700 273h1v1h-1zM575 274h1v1h-1zM495 276h2v1h-2zM702 276h1v1h-1zM497 277h2v1h-2zM703 277h1v1h-1zM499 278h1v1h-1zM704 278h1v1h-1zM500 279h2v1h-2zM502 280h1v1h-1zM503 281h1v1h-1zM571 281h1v1h-1zM706 281h1v1h-1zM504 282h2v1h-2zM570 282h1v1h-1zM707 282h1v1h-1zM506 283h1v1h-1zM507 284h2v1h-2zM509 285h2v1h-2zM568 285h1v1h-1zM709 285h1v1h-1zM387 286h1v1h-1zM511 286h1v1h-1zM567 286h1v1h-1zM388 287h1v1h-1zM512 287h1v1h-1zM566 287h1v1h-1zM389 288h1v1h-1zM513 288h1v1h-1zM564 288h2v1h-2zM711 288h1v1h-1zM390 289h1v1h-1zM514 289h1v1h-1zM563 289h1v1h-1zM391 290h2v1h-2zM515 290h1v1h-1zM561 290h2v1h-2zM393 291h2v1h-2zM516 291h1v1h-1zM559 291h2v1h-2zM713 291h1v1h-1zM395 292h2v1h-2zM558 292h1v1h-1zM397 293h2v1h-2zM551 293h3v1h-3zM556 293h2v1h-2zM399 294h1v1h-1zM518 294h1v1h-1zM550 294h1v1h-1zM554 294h2v1h-2zM715 294h1v1h-1zM400 295h2v1h-2zM519 295h1v1h-1zM548 295h2v1h-2zM402 296h1v1h-1zM520 296h2v1h-2zM547 296h1v1h-1zM403 297h3v1h-3zM522 297h1v1h-1zM545 297h2v1h-2zM717 297h1v1h-1zM406 298h4v1h-4zM427 298h1v1h-1zM523 298h2v1h-2zM542 298h3v1h-3zM410 299h2v1h-2zM426 299h1v1h-1zM525 299h2v1h-2zM538 299h4v1h-4zM412 300h2v1h-2zM425 300h1v1h-1zM527 300h11v1h-11zM719 300h1v1h-1zM414 301h1v1h-1zM424 301h1v1h-1zM720 301h1v1h-1zM415 302h3v1h-3zM422 302h2v1h-2zM418 303h4v1h-4zM722 304h1v1h-1zM723 305h1v1h-1zM724 306h1v1h-1zM726 309h1v1h-1zM727 310h1v1h-1zM855 310h10v1h-10zM854 311h1v1h-1zM865 311h2v1h-2zM882 311h4v1h-4zM852 312h2v1h-2zM867 312h3v1h-3zM879 312h3v1h-3zM886 312h4v1h-4zM729 313h1v1h-1zM851 313h1v1h-1zM870 313h4v1h-4zM877 313h2v1h-2zM890 313h3v1h-3zM850 314h1v1h-1zM874 314h3v1h-3zM893 314h2v1h-2zM849 315h1v1h-1zM895 315h1v1h-1zM731 316h1v1h-1zM848 316h1v1h-1zM896 316h2v1h-2zM846 317h2v1h-2zM898 317h1v1h-1zM902 317h4v1h-4zM843 318h3v1h-3zM899 318h3v1h-3zM906 318h4v1h-4zM914 318h4v1h-4zM842 319h1v1h-1zM910 319h4v1h-4zM918 319h4v1h-4zM840 320h2v1h-2zM922 320h3v1h-3zM839 321h1v1h-1zM925 321h2v1h-2zM838 322h1v1h-1zM927 322h1v1h-1zM735 323h1v1h-1zM836 323h2v1h-2zM928 323h1v1h-1zM835 324h1v1h-1zM834 325h1v1h-1zM737 326h1v1h-1zM833 326h1v1h-1zM930 326h1v1h-1zM832 327h1v1h-1zM831 328h1v1h-1zM830 329h1v1h-1zM829 330h1v1h-1zM828 331h1v1h-1zM827 332h1v1h-1zM825 333h2v1h-2zM823 334h2v1h-2zM821 335h2v1h-2zM819 336h2v1h-2zM743 337h1v1h-1zM817 337h2v1h-2zM815 338h2v1h-2zM813 339h2v1h-2zM811 340h2v1h-2zM810 341h1v1h-1zM808 342h2v1h-2zM807 343h1v1h-1zM747 344h1v1h-1zM806 344h1v1h-1zM940 345h2v1h-2zM942 346h1v1h-1zM749 347h1v1h-1zM804 347h1v1h-1zM943 347h1v1h-1zM803 348h1v1h-1zM944 348h2v1h-2zM802 349h1v1h-1zM946 349h1v1h-1zM751 350h1v1h-1zM800 350h2v1h-2zM947 350h1v1h-1zM752 351h2v1h-2zM799 351h1v1h-1zM948 351h2v1h-2zM754 352h1v1h-1zM798 352h1v1h-1zM950 352h1v1h-1zM755 353h3v1h-3zM797 353h1v1h-1zM951 353h3v1h-3zM758 354h2v1h-2zM796 354h1v1h-1zM954 354h2v1h-2zM760 355h2v1h-2zM790 355h6v1h-6zM762 356h1v1h-1zM787 356h3v1h-3zM763 357h3v1h-3zM774 357h4v1h-4zM785 357h2v1h-2zM766 358h8v1h-8zM778 358h7v1h-7z"/>
<path fill="#4b0082" d="M165 116h1v2h-1zM205 150h1v2h-1zM208 154h1v2h-1zM210 157h1v2h-1zM232 180h1v2h-1zM234 183h1v2h-1zM273 209h1v2h-1zM277 214h1v2h-1zM381 267h1v2h-1zM517 277h1v2h-1zM589 270h1v2h-1zM600 259h1v2h-1zM602 256h1v2h-1zM605 252h1v2h-1zM609 247h1v2h-1zM617 238h1v2h-1zM625 229h1v2h-1zM689 237h1v2h-1zM693 242h1v2h-1zM697 247h1v2h-1zM700 251h1v2h-1zM702 254h1v2h-1zM704 257h1v2h-1zM706 260h1v2h-1zM708 263h1v2h-1zM710 266h1v2h-1zM712 269h1v2h-1zM713 271h1v2h-1zM714 273h1v2h-1zM716 276h1v2h-1zM718 279h1v2h-1zM720 282h1v2h-1zM722 285h1v2h-1zM725 289h1v2h-1zM729 294h1v2h-1zM732 298h1v2h-1zM734 301h1v2h-1zM736 304h1v2h-1zM738 307h1v2h-1zM740 310h1v2h-1zM741 312h1v2h-1zM742 314h1v2h-1zM744 317h1v2h-1zM745 319h1v2h-1zM746 321h1v2h-1zM825 341h1v2h-1zM933 328h1v2h-1zM58 89h8v1h-8zM54 90h4v1h-4zM66 90h4v1h-4zM46 91h8v1h-8zM70 91h4v1h-4zM86 91h4v1h-4zM34 92h12v1h-12zM74 92h12v1h-12zM90 92h8v1h-8zM31 93h3v1h-3zM98 93h4v1h-4zM29 94h2v1h-2zM102 94h4v1h-4zM27 95h2v1h-2zM106 95h3v1h-3zM26 96h1v1h-1zM109 96h2v1h-2zM24 97h2v1h-2zM111 97h1v1h-1zM23 98h1v1h-1zM112 98h1v1h-1zM22 99h1v1h-1zM113 99h1v1h-1zM21 100h1v1h-1zM114 100h1v1h-1zM20 101h1v1h-1zM115 101h2v1h-2zM19 102h1v1h-1zM117 102h2v1h-2zM122 102h8v1h-8zM18 103h1v1h-1zM119 103h3v1h-3zM130 103h4v1h-4zM16 104h2v1h-2zM134 104h7v1h-7zM15 105h1v1h-1zM141 105h2v1h-2zM13 106h2v1h-2zM143 106h7v1h-7zM11 107h2v1h-2zM150 107h4v1h-4zM9 108h2v1h-2zM154 108h3v1h-3zM7 109h2v1h-2zM157 109h2v1h-2zM5 110h2v1h-2zM159 110h1v1h-1zM3 111h2v1h-2zM160 111h1v1h-1zM161 112h1v1h-1zM162 113h1v1h-1zM163 114h1v1h-1zM164 115h1v1h-1zM166 118h1v1h-1zM167 119h1v1h-1zM168 120h1v1h-1zM169 121h1v1h-1zM170 122h1v1h-1zM171 123h1v1h-1zM172 124h1v1h-1zM173 125h1v1h-1zM174 126h1v1h-1zM175 127h1v1h-1zM176 128h2v1h-2zM178 129h1v1h-1zM179 130h1v1h-1zM180 131h2v1h-2zM182 132h1v1h-1zM183 133h1v1h-1zM184 134h2v1h-2zM186 135h1v1h-1zM187 136h1v1h-1zM188 137h2v1h-2zM190 138h1v1h-1zM191 139h1v1h-1zM192 140h2v1h-2zM194 141h1v1h-1zM195 142h2v1h-2zM197 143h2v1h-2zM199 144h1v1h-1zM200 145h1v1h-1zM201 146h1v1h-1zM202 147h1v1h-1zM203 148h1v1h-1zM204 149h1v1h-1zM206 152h1v1h-1zM207 153h1v1h-1zM209 156h1v1h-1zM211 159h1v1h-1zM212 160h1v1h-1zM213 161h1v1h-1zM214 162h1v1h-1zM215 163h1v1h-1zM216 164h1v1h-1zM217 165h1v1h-1zM218 166h1v1h-1zM219 167h1v1h-1zM220 168h1v1h-1zM221 169h1v1h-1zM222 170h1v1h-1zM223 171h1v1h-1zM224 172h1v1h-1zM225 173h1v1h-1zM226 174h1v1h-1zM227 175h1v1h-1zM228 176h1v1h-1zM229 177h1v1h-1zM230 178h1v1h-1zM231 179h1v1h-1zM233 182h1v1h-1zM235 185h1v1h-1zM236 186h2v1h-2zM238 187h1v1h-1zM239 188h1v1h-1zM240 189h2v1h-2zM242 190h1v1h-1zM243 191h3v1h-3zM246 192h4v1h-4zM250 193h4v1h-4zM254 194h3v1h-3zM257 195h2v1h-2zM259 196h1v1h-1zM260 197h2v1h-2zM262 198h1v1h-1zM263 199h1v1h-1zM264 200h1v1h-1zM265 201h1v1h-1zM266 202h1v1h-1zM267 203h1v1h-1zM268 204h1v1h-1zM269 205h1v1h-1zM270 206h1v1h-1zM271 207h1v1h-1zM272 208h1v1h-1zM274 211h1v1h-1zM275 212h1v1h-1zM276 213h1v1h-1zM646 215h12v1h-12zM278 216h1v1h-1zM642 216h4v1h-4zM658 216h3v1h-3zM279 217h1v1h-1zM639 217h3v1h-3zM661 217h2v1h-2zM280 218h2v1h-2zM638 218h1v1h-1zM663 218h2v1h-2zM282 219h1v1h-1zM637 219h1v1h-1zM665 219h2v1h-2zM283 220h1v1h-1zM636 220h1v1h-1zM667 220h1v1h-1zM284 221h2v1h-2zM635 221h1v1h-1zM668 221h2v1h-2zM286 222h1v1h-1zM633 222h2v1h-2zM670 222h1v1h-1zM287 223h1v1h-1zM631 223h2v1h-2zM671 223h1v1h-1zM288 224h2v1h-2zM630 224h1v1h-1zM672 224h2v1h-2zM290 225h1v1h-1zM629 225h1v1h-1zM674 225h1v1h-1zM291 226h3v1h-3zM628 226h1v1h-1zM675 226h2v1h-2zM294 227h2v1h-2zM627 227h1v1h-1zM677 227h2v1h-2zM296 228h2v1h-2zM626 228h1v1h-1zM679 228h1v1h-1zM298 229h1v1h-1zM680 229h1v1h-1zM299 230h1v1h-1zM681 230h1v1h-1zM300 231h2v1h-2zM624 231h1v1h-1zM682 231h1v1h-1zM302 232h1v1h-1zM623 232h1v1h-1zM683 232h1v1h-1zM303 233h1v1h-1zM622 233h1v1h-1zM684 233h2v1h-2zM304 234h2v1h-2zM621 234h1v1h-1zM686 234h1v1h-1zM306 235h1v1h-1zM620 235h1v1h-1zM687 235h1v1h-1zM307 236h1v1h-1zM619 236h1v1h-1zM688 236h1v1h-1zM308 237h2v1h-2zM618 237h1v1h-1zM310 238h1v1h-1zM311 239h1v1h-1zM690 239h1v1h-1zM312 240h2v1h-2zM616 240h1v1h-1zM691 240h1v1h-1zM314 241h1v1h-1zM615 241h1v1h-1zM692 241h1v1h-1zM315 242h3v1h-3zM614 242h1v1h-1zM318 243h3v1h-3zM613 243h1v1h-1zM321 244h2v1h-2zM612 244h1v1h-1zM694 244h1v1h-1zM323 245h2v1h-2zM611 245h1v1h-1zM695 245h1v1h-1zM325 246h2v1h-2zM610 246h1v1h-1zM696 246h1v1h-1zM327 247h3v1h-3zM330 248h3v1h-3zM333 249h2v1h-2zM608 249h1v1h-1zM698 249h1v1h-1zM335 250h1v1h-1zM607 250h1v1h-1zM699 250h1v1h-1zM336 251h2v1h-2zM606 251h1v1h-1zM338 252h1v1h-1zM339 253h2v1h-2zM701 253h1v1h-1zM341 254h2v1h-2zM604 254h1v1h-1zM343 255h3v1h-3zM358 255h8v1h-8zM603 255h1v1h-1zM346 256h12v1h-12zM366 256h3v1h-3zM703 256h1v1h-1zM369 257h2v1h-2zM371 258h1v1h-1zM601 258h1v1h-1zM372 259h2v1h-2zM705 259h1v1h-1zM374 260h1v1h-1zM375 261h1v1h-1zM599 261h1v1h-1zM376 262h1v1h-1zM598 262h1v1h-1zM707 262h1v1h-1zM377 263h1v1h-1zM474 263h16v1h-16zM597 263h1v1h-1zM378 264h1v1h-1zM471 264h3v1h-3zM490 264h3v1h-3zM596 264h1v1h-1zM379 265h1v1h-1zM470 265h1v1h-1zM493 265h2v1h-2zM595 265h1v1h-1zM709 265h1v1h-1zM380 266h1v1h-1zM469 266h1v1h-1zM495 266h7v1h-7zM594 266h1v1h-1zM468 267h1v1h-1zM502 267h3v1h-3zM592 267h2v1h-2zM467 268h1v1h-1zM505 268h2v1h-2zM591 268h1v1h-1zM711 268h1v1h-1zM382 269h1v1h-1zM466 269h1v1h-1zM507 269h2v1h-2zM590 269h1v1h-1zM383 270h1v1h-1zM465 270h1v1h-1zM509 270h2v1h-2zM384 271h1v1h-1zM464 271h1v1h-1zM511 271h1v1h-1zM385 272h1v1h-1zM463 272h1v1h-1zM512 272h1v1h-1zM588 272h1v1h-1zM386 273h1v1h-1zM462 273h1v1h-1zM513 273h1v1h-1zM587 273h1v1h-1zM387 274h1v1h-1zM461 274h1v1h-1zM514 274h1v1h-1zM586 274h1v1h-1zM388 275h1v1h-1zM460 275h1v1h-1zM515 275h1v1h-1zM585 275h1v1h-1zM715 275h1v1h-1zM389 276h1v1h-1zM459 276h1v1h-1zM516 276h1v1h-1zM584 276h1v1h-1zM390 277h1v1h-1zM458 277h1v1h-1zM583 277h1v1h-1zM391 278h2v1h-2zM456 278h2v1h-2zM581 278h2v1h-2zM717 278h1v1h-1zM393 279h2v1h-2zM455 279h1v1h-1zM518 279h1v1h-1zM579 279h2v1h-2zM395 280h3v1h-3zM453 280h2v1h-2zM519 280h1v1h-1zM578 280h1v1h-1zM398 281h3v1h-3zM439 281h14v1h-14zM520 281h1v1h-1zM577 281h1v1h-1zM719 281h1v1h-1zM401 282h2v1h-2zM437 282h2v1h-2zM521 282h1v1h-1zM576 282h1v1h-1zM403 283h2v1h-2zM435 283h2v1h-2zM522 283h1v1h-1zM575 283h1v1h-1zM405 284h2v1h-2zM433 284h2v1h-2zM523 284h2v1h-2zM574 284h1v1h-1zM721 284h1v1h-1zM407 285h3v1h-3zM431 285h2v1h-2zM525 285h2v1h-2zM573 285h1v1h-1zM410 286h3v1h-3zM429 286h2v1h-2zM527 286h2v1h-2zM572 286h1v1h-1zM413 287h2v1h-2zM426 287h3v1h-3zM529 287h2v1h-2zM571 287h1v1h-1zM723 287h1v1h-1zM415 288h3v1h-3zM422 288h4v1h-4zM531 288h2v1h-2zM570 288h1v1h-1zM724 288h1v1h-1zM418 289h4v1h-4zM533 289h2v1h-2zM568 289h2v1h-2zM535 290h3v1h-3zM567 290h1v1h-1zM538 291h3v1h-3zM565 291h2v1h-2zM726 291h1v1h-1zM541 292h2v1h-2zM562 292h3v1h-3zM727 292h1v1h-1zM543 293h3v1h-3zM559 293h3v1h-3zM728 293h1v1h-1zM546 294h8v1h-8zM557 294h2v1h-2zM554 295h3v1h-3zM730 296h1v1h-1zM731 297h1v1h-1zM733 300h1v1h-1zM735 303h1v1h-1zM737 306h1v1h-1zM739 309h1v1h-1zM886 311h8v1h-8zM883 312h3v1h-3zM894 312h8v1h-8zM882 313h1v1h-1zM902 313h8v1h-8zM881 314h1v1h-1zM910 314h3v1h-3zM880 315h1v1h-1zM913 315h2v1h-2zM743 316h1v1h-1zM879 316h1v1h-1zM915 316h3v1h-3zM878 317h1v1h-1zM918 317h2v1h-2zM876 318h2v1h-2zM920 318h2v1h-2zM874 319h2v1h-2zM922 319h1v1h-1zM866 320h8v1h-8zM923 320h2v1h-2zM862 321h4v1h-4zM925 321h2v1h-2zM858 322h4v1h-4zM927 322h1v1h-1zM747 323h1v1h-1zM854 323h4v1h-4zM928 323h1v1h-1zM748 324h1v1h-1zM850 324h4v1h-4zM929 324h1v1h-1zM749 325h1v1h-1zM846 325h4v1h-4zM930 325h1v1h-1zM750 326h1v1h-1zM843 326h3v1h-3zM931 326h1v1h-1zM751 327h1v1h-1zM841 327h2v1h-2zM932 327h1v1h-1zM752 328h1v1h-1zM839 328h2v1h-2zM753 329h1v1h-1zM838 329h1v1h-1zM754 330h1v1h-1zM836 330h2v1h-2zM934 330h1v1h-1zM755 331h1v1h-1zM835 331h1v1h-1zM935 331h1v1h-1zM756 332h2v1h-2zM834 332h1v1h-1zM936 332h1v1h-1zM758 333h1v1h-1zM833 333h1v1h-1zM937 333h1v1h-1zM759 334h1v1h-1zM832 334h1v1h-1zM938 334h1v1h-1zM760 335h1v1h-1zM831 335h1v1h-1zM939 335h2v1h-2zM761 336h1v1h-1zM830 336h1v1h-1zM941 336h2v1h-2zM762 337h1v1h-1zM829 337h1v1h-1zM943 337h3v1h-3zM763 338h1v1h-1zM828 338h1v1h-1zM946 338h4v1h-4zM764 339h2v1h-2zM827 339h1v1h-1zM950 339h4v1h-4zM766 340h1v1h-1zM826 340h1v1h-1zM954 340h2v1h-2zM767 341h2v1h-2zM769 342h2v1h-2zM771 343h2v1h-2zM824 343h1v1h-1zM773 344h2v1h-2zM823 344h1v1h-1zM775 345h1v1h-1zM822 345h1v1h-1zM776 346h2v1h-2zM820 346h2v1h-2zM778 347h1v1h-1zM819 347h1v1h-1zM779 348h3v1h-3zM817 348h2v1h-2zM782 349h4v1h-4zM815 349h2v1h-2zM786 350h3v1h-3zM813 350h2v1h-2zM789 351h2v1h-2zM811 351h2v1h-2zM791 352h3v1h-3zM809 352h2v1h-2zM794 353h3v1h-3zM806 353h3v1h-3zM797 354h2v1h-2zM802 354h4v1h-4zM799 355h3v1h-3z"/>
</g>
<g shape-rendering="crispEdges">
<rect x="3" y="239" width="1199" height="2" fill="#ff0000"/>
<rect x="1203" y="234" width="40" height="11" fill="#ff0000"/>
<rect x="3" y="300" width="1199" height="2" fill="#ff0000"/>
<rect x="2" y="298" width="6" height="6" fill="#ff0000"/>
<rect x="4" y="300" width="2" height="2" fill="#fff"/>
<rect x="1195" y="298" width="6" height="6" fill="#ff0000"/>
<rect x="1197" y="300" width="2" height="2" fill="#fff"/>
<rect x="1203" y="295" width="40" height="11" fill="#ff0000"/>
<rect x="1203" y="348" width="40" height="11" fill="#000"/>
</g>
<text y="357" style="fill:#fff;stroke:#fff"><tspan x="1206.7" textLength="33.5" lengthAdjust="spacingAndGlyphs">0.71211</tspan></text>
<g shape-rendering="crispEdges">
<rect x="3" y="361" width="1199" height="2" fill="#00ff00"/>
<rect x="2" y="359" width="6" height="6" fill="#00ff00"/>
<rect x="4" y="361" width="2" height="2" fill="#fff"/>
<rect x="1195" y="359" width="6" height="6" fill="#00ff00"/>
<rect x="1197" y="361" width="2" height="2" fill="#fff"/>
<rect x="1203" y="356" width="40" height="11" fill="#00ff00"/>
<rect x="3" y="422" width="1199" height="2" fill="#0000cd"/>
<rect x="1203" y="417" width="40" height="11" fill="#0000cd"/>
</g>
<text y="243" style="fill:#fff;stroke:#fff"><tspan x="1206.7" textLength="33.5" lengthAdjust="spacingAndGlyphs">0.74018</tspan></text>
<text y="304" style="fill:#fff;stroke:#fff"><tspan x="1206.7" textLength="33.5" lengthAdjust="spacingAndGlyphs">0.72513</tspan></text>
<text y="365" style="fill:#fff;stroke:#fff"><tspan x="1206.7" textLength="33.5" lengthAdjust="spacingAndGlyphs">0.71009</tspan></text>
<text y="426" style="fill:#fff;stroke:#fff"><tspan x="1206.7" textLength="33.5" lengthAdjust="spacingAndGlyphs">0.69504</tspan></text>
<g shape-rendering="crispEdges" fill="#c0c0c0">
<path d="M4 508h3v1h-3zM4 549h3v1h-3zM10 508h3v1h-3zM10 549h3v1h-3zM16 508h3v1h-3zM16 549h3v1h-3zM22 508h3v1h-3zM22 549h3v1h-3zM28 508h3v1h-3zM28 549h3v1h-3zM34 508h3v1h-3zM34 549h3v1h-3zM40 508h3v1h-3zM40 549h3v1h-3zM46 508h3v1h-3zM46 549h3v1h-3zM52 508h3v1h-3zM52 549h3v1h-3zM58 508h3v1h-3zM58 549h3v1h-3zM64 508h3v1h-3zM64 549h3v1h-3zM70 508h3v1h-3zM70 549h3v1h-3zM76 508h3v1h-3zM76 549h3v1h-3zM82 508h3v1h-3zM82 549h3v1h-3zM88 508h3v1h-3zM88 549h3v1h-3zM94 508h3v1h-3zM94 549h3v1h-3zM100 508h3v1h-3zM100 549h3v1h-3zM106 508h3v1h-3zM106 549h3v1h-3zM112 508h3v1h-3zM112 549h3v1h-3zM118 508h3v1h-3zM118 549h3v1h-3zM124 508h3v1h-3zM124 549h3v1h-3zM130 508h3v1h-3zM130 549h3v1h-3zM136 508h3v1h-3zM136 549h3v1h-3zM142 508h3v1h-3zM142 549h3v1h-3zM148 508h3v1h-3zM148 549h3v1h-3zM154 508h3v1h-3zM154 549h3v1h-3zM160 508h3v1h-3zM160 549h3v1h-3zM166 508h3v1h-3zM166 549h3v1h-3zM172 508h3v1h-3zM172 549h3v1h-3zM178 508h3v1h-3zM178 549h3v1h-3zM184 508h3v1h-3zM184 549h3v1h-3zM190 508h3v1h-3zM190 549h3v1h-3zM196 508h3v1h-3zM196 549h3v1h-3zM202 508h3v1h-3zM202 549h3v1h-3zM208 508h3v1h-3zM208 549h3v1h-3zM214 508h3v1h-3zM214 549h3v1h-3zM220 508h3v1h-3zM220 549h3v1h-3zM226 508h3v1h-3zM226 549h3v1h-3zM232 508h3v1h-3zM232 549h3v1h-3zM238 508h3v1h-3zM238 549h3v1h-3zM244 508h3v1h-3zM244 549h3v1h-3zM250 508h3v1h-3zM250 549h3v1h-3zM256 508h3v1h-3zM256 549h3v1h-3zM262 508h3v1h-3zM262 549h3v1h-3zM268 508h3v1h-3zM268 549h3v1h-3zM274 508h3v1h-3zM274 549h3v1h-3zM280 508h3v1h-3zM280 549h3v1h-3zM286 508h3v1h-3zM286 549h3v1h-3zM292 508h3v1h-3zM292 549h3v1h-3zM298 508h3v1h-3zM298 549h3v1h-3zM304 508h3v1h-3zM304 549h3v1h-3zM310 508h3v1h-3zM310 549h3v1h-3zM316 508h3v1h-3zM316 549h3v1h-3zM322 508h3v1h-3zM322 549h3v1h-3zM328 508h3v1h-3zM328 549h3v1h-3zM334 508h3v1h-3zM334 549h3v1h-3zM340 508h3v1h-3zM340 549h3v1h-3zM346 508h3v1h-3zM346 549h3v1h-3zM352 508h3v1h-3zM352 549h3v1h-3zM358 508h3v1h-3zM358 549h3v1h-3zM364 508h3v1h-3zM364 549h3v1h-3zM370 508h3v1h-3zM370 549h3v1h-3zM376 508h3v1h-3zM376 549h3v1h-3zM382 508h3v1h-3zM382 549h3v1h-3zM388 508h3v1h-3zM388 549h3v1h-3zM394 508h3v1h-3zM394 549h3v1h-3zM400 508h3v1h-3zM400 549h3v1h-3zM406 508h3v1h-3zM406 549h3v1h-3zM412 508h3v1h-3zM412 549h3v1h-3zM418 508h3v1h-3zM418 549h3v1h-3zM424 508h3v1h-3zM424 549h3v1h-3zM430 508h3v1h-3zM430 549h3v1h-3zM436 508h3v1h-3zM436 549h3v1h-3zM442 508h3v1h-3zM442 549h3v1h-3zM448 508h3v1h-3zM448 549h3v1h-3zM454 508h3v1h-3zM454 549h3v1h-3zM460 508h3v1h-3zM460 549h3v1h-3zM466 508h3v1h-3zM466 549h3v1h-3zM472 508h3v1h-3zM472 549h3v1h-3zM478 508h3v1h-3zM478 549h3v1h-3zM484 508h3v1h-3zM484 549h3v1h-3zM490 508h3v1h-3zM490 549h3v1h-3zM496 508h3v1h-3zM496 549h3v1h-3zM502 508h3v1h-3zM502 549h3v1h-3zM508 508h3v1h-3zM508 549h3v1h-3zM514 508h3v1h-3zM514 549h3v1h-3zM520 508h3v1h-3zM520 549h3v1h-3zM526 508h3v1h-3zM526 549h3v1h-3zM532 508h3v1h-3zM532 549h3v1h-3zM538 508h3v1h-3zM538 549h3v1h-3zM544 508h3v1h-3zM544 549h3v1h-3zM550 508h3v1h-3zM550 549h3v1h-3zM556 508h3v1h-3zM556 549h3v1h-3zM562 508h3v1h-3zM562 549h3v1h-3zM568 508h3v1h-3zM568 549h3v1h-3zM574 508h3v1h-3zM574 549h3v1h-3zM580 508h3v1h-3zM580 549h3v1h-3zM586 508h3v1h-3zM586 549h3v1h-3zM592 508h3v1h-3zM592 549h3v1h-3zM598 508h3v1h-3zM598 549h3v1h-3zM604 508h3v1h-3zM604 549h3v1h-3zM610 508h3v1h-3zM610 549h3v1h-3zM616 508h3v1h-3zM616 549h3v1h-3zM622 508h3v1h-3zM622 549h3v1h-3zM628 508h3v1h-3zM628 549h3v1h-3zM634 508h3v1h-3zM634 549h3v1h-3zM640 508h3v1h-3zM640 549h3v1h-3zM646 508h3v1h-3zM646 549h3v1h-3zM652 508h3v1h-3zM652 549h3v1h-3zM658 508h3v1h-3zM658 549h3v1h-3zM664 508h3v1h-3zM664 549h3v1h-3zM670 508h3v1h-3zM670 549h3v1h-3zM676 508h3v1h-3zM676 549h3v1h-3zM682 508h3v1h-3zM682 549h3v1h-3zM688 508h3v1h-3zM688 549h3v1h-3zM694 508h3v1h-3zM694 549h3v1h-3zM700 508h3v1h-3zM700 549h3v1h-3zM706 508h3v1h-3zM706 549h3v1h-3zM712 508h3v1h-3zM712 549h3v1h-3zM718 508h3v1h-3zM718 549h3v1h-3zM724 508h3v1h-3zM724 549h3v1h-3zM730 508h3v1h-3zM730 549h3v1h-3zM736 508h3v1h-3zM736 549h3v1h-3zM742 508h3v1h-3zM742 549h3v1h-3zM748 508h3v1h-3zM748 549h3v1h-3zM754 508h3v1h-3zM754 549h3v1h-3zM760 508h3v1h-3zM760 549h3v1h-3zM766 508h3v1h-3zM766 549h3v1h-3zM772 508h3v1h-3zM772 549h3v1h-3zM778 508h3v1h-3zM778 549h3v1h-3zM784 508h3v1h-3zM784 549h3v1h-3zM790 508h3v1h-3zM790 549h3v1h-3zM796 508h3v1h-3zM796 549h3v1h-3zM802 508h3v1h-3zM802 549h3v1h-3zM808 508h3v1h-3zM808 549h3v1h-3zM814 508h3v1h-3zM814 549h3v1h-3zM820 508h3v1h-3zM820 549h3v1h-3zM826 508h3v1h-3zM826 549h3v1h-3zM832 508h3v1h-3zM832 549h3v1h-3zM838 508h3v1h-3zM838 549h3v1h-3zM844 508h3v1h-3zM844 549h3v1h-3zM850 508h3v1h-3zM850 549h3v1h-3zM856 508h3v1h-3zM856 549h3v1h-3zM862 508h3v1h-3zM862 549h3v1h-3zM868 508h3v1h-3zM868 549h3v1h-3zM874 508h3v1h-3zM874 549h3v1h-3zM880 508h3v1h-3zM880 549h3v1h-3zM886 508h3v1h-3zM886 549h3v1h-3zM892 508h3v1h-3zM892 549h3v1h-3zM898 508h3v1h-3zM898 549h3v1h-3zM904 508h3v1h-3zM904 549h3v1h-3zM910 508h3v1h-3zM910 549h3v1h-3zM916 508h3v1h-3zM916 549h3v1h-3zM922 508h3v1h-3zM922 549h3v1h-3zM928 508h3v1h-3zM928 549h3v1h-3zM934 508h3v1h-3zM934 549h3v1h-3zM940 508h3v1h-3zM940 549h3v1h-3zM946 508h3v1h-3zM946 549h3v1h-3zM952 508h3v1h-3zM952 549h3v1h-3zM958 508h3v1h-3zM958 549h3v1h-3zM964 508h3v1h-3zM964 549h3v1h-3zM970 508h3v1h-3zM970 549h3v1h-3zM976 508h3v1h-3zM976 549h3v1h-3zM982 508h3v1h-3zM982 549h3v1h-3zM988 508h3v1h-3zM988 549h3v1h-3zM994 508h3v1h-3zM994 549h3v1h-3zM1000 508h3v1h-3zM1000 549h3v1h-3zM1006 508h3v1h-3zM1006 549h3v1h-3zM1012 508h3v1h-3zM1012 549h3v1h-3zM1018 508h3v1h-3zM1018 549h3v1h-3zM1024 508h3v1h-3zM1024 549h3v1h-3zM1030 508h3v1h-3zM1030 549h3v1h-3zM1036 508h3v1h-3zM1036 549h3v1h-3zM1042 508h3v1h-3zM1042 549h3v1h-3zM1048 508h3v1h-3zM1048 549h3v1h-3zM1054 508h3v1h-3zM1054 549h3v1h-3zM1060 508h3v1h-3zM1060 549h3v1h-3zM1066 508h3v1h-3zM1066 549h3v1h-3zM1072 508h3v1h-3zM1072 549h3v1h-3zM1078 508h3v1h-3zM1078 549h3v1h-3zM1084 508h3v1h-3zM1084 549h3v1h-3zM1090 508h3v1h-3zM1090 549h3v1h-3zM1096 508h3v1h-3zM1096 549h3v1h-3zM1102 508h3v1h-3zM1102 549h3v1h-3zM1108 508h3v1h-3zM1108 549h3v1h-3zM1114 508h3v1h-3zM1114 549h3v1h-3zM1120 508h3v1h-3zM1120 549h3v1h-3zM1126 508h3v1h-3zM1126 549h3v1h-3zM1132 508h3v1h-3zM1132 549h3v1h-3zM1138 508h3v1h-3zM1138 549h3v1h-3zM1144 508h3v1h-3zM1144 549h3v1h-3zM1150 508h3v1h-3zM1150 549h3v1h-3zM1156 508h3v1h-3zM1156 549h3v1h-3zM1162 508h3v1h-3zM1162 549h3v1h-3zM1168 508h3v1h-3zM1168 549h3v1h-3zM1174 508h3v1h-3zM1174 549h3v1h-3zM1180 508h3v1h-3zM1180 549h3v1h-3zM1186 508h3v1h-3zM1186 549h3v1h-3zM1192 508h3v1h-3zM1192 549h3v1h-3zM1198 508h3v1h-3zM1198 549h3v1h-3z"/>
</g>
<g shape-rendering="crispEdges">
<path fill="#c0c0c0" d="M3 443h1v5h-1zM7 442h1v6h-1zM11 444h1v4h-1zM15 444h1v4h-1zM19 443h1v5h-1zM23 441h1v7h-1zM27 439h1v9h-1zM31 439h1v9h-1zM35 438h1v10h-1zM39 440h1v8h-1zM43 442h1v6h-1zM47 443h1v5h-1zM51 443h1v5h-1zM55 443h1v5h-1zM59 443h1v5h-1zM63 445h1v3h-1zM67 445h1v3h-1zM71 447h1v1h-1zM95 447h1v1h-1zM99 447h1v2h-1zM103 447h1v2h-1zM107 447h1v1h-1zM111 447h1v1h-1zM115 447h1v3h-1zM119 447h1v3h-1zM123 447h1v2h-1zM127 447h1v1h-1zM131 447h1v1h-1zM135 447h1v1h-1zM139 447h1v1h-1zM143 447h1v2h-1zM147 447h1v2h-1zM151 447h1v2h-1zM155 447h1v3h-1zM159 447h1v5h-1zM163 447h1v8h-1zM167 447h1v12h-1zM171 447h1v15h-1zM175 447h1v16h-1zM179 447h1v16h-1zM183 447h1v16h-1zM187 447h1v15h-1zM191 447h1v14h-1zM195 447h1v13h-1zM199 447h1v13h-1zM203 447h1v14h-1zM207 447h1v14h-1zM211 447h1v16h-1zM215 447h1v15h-1zM219 447h1v15h-1zM223 447h1v14h-1zM227 447h1v14h-1zM231 447h1v14h-1zM235 447h1v15h-1zM239 447h1v15h-1zM243 447h1v14h-1zM247 447h1v14h-1zM251 447h1v14h-1zM255 447h1v13h-1zM259 447h1v14h-1zM263 447h1v15h-1zM267 447h1v16h-1zM271 447h1v17h-1zM275 447h1v18h-1zM279 447h1v18h-1zM283 447h1v18h-1zM287 447h1v17h-1zM291 447h1v17h-1zM295 447h1v16h-1zM299 447h1v15h-1zM303 447h1v14h-1zM307 447h1v13h-1zM311 447h1v13h-1zM315 447h1v13h-1zM319 447h1v13h-1zM323 447h1v11h-1zM327 447h1v10h-1zM331 447h1v9h-1zM335 447h1v9h-1zM339 447h1v9h-1zM343 447h1v10h-1zM347 447h1v9h-1zM351 447h1v8h-1zM355 447h1v8h-1zM359 447h1v7h-1zM363 447h1v7h-1zM367 447h1v7h-1zM371 447h1v9h-1zM375 447h1v11h-1zM379 447h1v14h-1zM383 447h1v17h-1zM387 447h1v19h-1zM391 447h1v18h-1zM395 447h1v17h-1zM399 447h1v15h-1zM403 447h1v14h-1zM407 447h1v11h-1zM411 447h1v9h-1zM415 447h1v8h-1zM419 447h1v6h-1zM423 447h1v4h-1zM427 447h1v1h-1zM431 445h1v3h-1zM435 443h1v5h-1zM439 441h1v7h-1zM443 441h1v7h-1zM447 442h1v6h-1zM451 442h1v6h-1zM455 443h1v5h-1zM459 443h1v5h-1zM463 444h1v4h-1zM467 445h1v3h-1zM471 446h1v2h-1zM475 447h1v1h-1zM479 447h1v1h-1zM483 447h1v3h-1zM487 447h1v4h-1zM491 447h1v6h-1zM495 447h1v7h-1zM499 447h1v6h-1zM503 447h1v6h-1zM507 447h1v6h-1zM511 447h1v6h-1zM515 447h1v6h-1zM519 447h1v8h-1zM523 447h1v8h-1zM527 447h1v7h-1zM531 447h1v7h-1zM535 447h1v5h-1zM539 447h1v4h-1zM543 447h1v4h-1zM547 447h1v2h-1zM551 447h1v1h-1zM555 447h1v1h-1zM563 447h1v1h-1zM567 445h1v3h-1zM571 443h1v5h-1zM575 441h1v7h-1zM579 440h1v8h-1zM583 439h1v9h-1zM587 437h1v11h-1zM591 435h1v13h-1zM595 434h1v14h-1zM599 434h1v14h-1zM603 434h1v14h-1zM607 433h1v15h-1zM611 433h1v15h-1zM615 433h1v15h-1zM619 432h1v16h-1zM623 432h1v16h-1zM627 432h1v16h-1zM631 432h1v16h-1zM635 435h1v13h-1zM639 436h1v12h-1zM643 439h1v9h-1zM647 441h1v7h-1zM651 443h1v5h-1zM655 444h1v4h-1zM659 446h1v2h-1zM667 447h1v3h-1zM671 447h1v5h-1zM675 447h1v6h-1zM679 447h1v6h-1zM683 447h1v7h-1zM687 447h1v9h-1zM691 447h1v10h-1zM695 447h1v11h-1zM699 447h1v13h-1zM703 447h1v14h-1zM707 447h1v14h-1zM711 447h1v15h-1zM715 447h1v16h-1zM719 447h1v18h-1zM723 447h1v19h-1zM727 447h1v19h-1zM731 447h1v20h-1zM735 447h1v21h-1zM739 447h1v21h-1zM743 447h1v24h-1zM747 447h1v25h-1zM751 447h1v25h-1zM755 447h1v23h-1zM759 447h1v20h-1zM763 447h1v18h-1zM767 447h1v15h-1zM771 447h1v13h-1zM775 447h1v12h-1zM779 447h1v12h-1zM783 447h1v10h-1zM787 447h1v9h-1zM791 447h1v8h-1zM795 447h1v8h-1zM799 447h1v8h-1zM803 447h1v7h-1zM807 447h1v5h-1zM811 447h1v3h-1zM815 447h1v1h-1zM823 446h1v2h-1zM827 445h1v3h-1zM831 444h1v4h-1zM835 443h1v5h-1zM839 442h1v6h-1zM843 442h1v6h-1zM847 443h1v5h-1zM851 443h1v5h-1zM855 443h1v5h-1zM859 445h1v3h-1zM863 446h1v2h-1zM867 447h1v1h-1zM875 447h1v1h-1zM879 446h1v2h-1zM883 444h1v4h-1zM887 445h1v3h-1zM891 445h1v3h-1zM895 446h1v2h-1zM899 447h1v1h-1zM903 447h1v1h-1zM907 447h1v1h-1zM919 447h1v2h-1zM923 447h1v2h-1zM927 447h1v4h-1zM931 447h1v7h-1zM935 447h1v11h-1zM939 447h1v13h-1zM943 447h1v13h-1zM947 447h1v11h-1zM951 447h1v10h-1zM955 447h1v9h-1z"/>
<path fill="#ff0000" d="M622 432h2v1h-2zM627 432h3v1h-3zM633 432h3v1h-3zM639 432h3v1h-3zM621 433h1v1h-1zM645 433h1v1h-1zM610 434h2v1h-2zM615 434h3v1h-3zM646 434h2v1h-2zM609 435h1v1h-1zM651 435h3v1h-3zM603 436h3v1h-3zM657 437h2v1h-2zM598 438h2v1h-2zM659 438h1v1h-1zM597 439h1v1h-1zM34 440h2v1h-2zM39 440h3v1h-3zM45 440h3v1h-3zM51 440h3v1h-3zM57 440h3v1h-3zM591 440h3v1h-3zM663 440h2v1h-2zM3 441h3v1h-3zM9 441h3v1h-3zM15 441h3v1h-3zM21 441h3v1h-3zM27 441h3v1h-3zM33 441h1v1h-1zM63 441h3v1h-3zM665 441h1v1h-1zM69 442h1v1h-1zM459 442h3v1h-3zM465 442h3v1h-3zM471 442h3v1h-3zM586 442h2v1h-2zM861 442h1v1h-1zM70 443h2v1h-2zM75 443h3v1h-3zM455 443h1v1h-1zM477 443h1v1h-1zM585 443h1v1h-1zM669 443h2v1h-2zM850 443h2v1h-2zM855 443h3v1h-3zM862 443h2v1h-2zM867 443h3v1h-3zM873 443h1v1h-1zM81 444h1v1h-1zM453 444h2v1h-2zM478 444h2v1h-2zM581 444h1v1h-1zM671 444h1v1h-1zM849 444h1v1h-1zM874 444h2v1h-2zM879 444h3v1h-3zM82 445h2v1h-2zM87 445h3v1h-3zM483 445h3v1h-3zM579 445h2v1h-2zM843 445h3v1h-3zM885 445h3v1h-3zM891 445h3v1h-3zM897 445h3v1h-3zM903 445h3v1h-3zM909 445h3v1h-3zM915 445h3v1h-3zM93 446h3v1h-3zM447 446h3v1h-3zM489 446h1v1h-1zM574 446h2v1h-2zM675 446h3v1h-3zM838 446h2v1h-2zM921 446h1v1h-1zM99 447h3v1h-3zM105 447h1v1h-1zM490 447h2v1h-2zM573 447h1v1h-1zM837 447h1v1h-1zM922 447h2v1h-2zM927 447h3v1h-3zM106 448h2v1h-2zM111 448h3v1h-3zM117 448h1v1h-1zM443 448h1v1h-1zM495 448h3v1h-3zM569 448h1v1h-1zM681 448h2v1h-2zM833 448h1v1h-1zM118 449h2v1h-2zM123 449h3v1h-3zM129 449h3v1h-3zM135 449h3v1h-3zM141 449h3v1h-3zM147 449h3v1h-3zM153 449h3v1h-3zM159 449h3v1h-3zM441 449h2v1h-2zM501 449h1v1h-1zM567 449h2v1h-2zM683 449h1v1h-1zM831 449h2v1h-2zM933 449h2v1h-2zM165 450h1v1h-1zM502 450h2v1h-2zM562 450h2v1h-2zM687 450h2v1h-2zM826 450h2v1h-2zM935 450h1v1h-1zM166 451h2v1h-2zM437 451h1v1h-1zM507 451h3v1h-3zM561 451h1v1h-1zM689 451h1v1h-1zM825 451h1v1h-1zM939 451h2v1h-2zM435 452h2v1h-2zM513 452h1v1h-1zM550 452h2v1h-2zM555 452h3v1h-3zM693 452h1v1h-1zM821 452h1v1h-1zM941 452h1v1h-1zM171 453h3v1h-3zM514 453h2v1h-2zM519 453h3v1h-3zM543 453h3v1h-3zM549 453h1v1h-1zM694 453h2v1h-2zM819 453h2v1h-2zM945 453h1v1h-1zM431 454h1v1h-1zM525 454h3v1h-3zM531 454h3v1h-3zM537 454h3v1h-3zM814 454h2v1h-2zM946 454h2v1h-2zM177 455h2v1h-2zM363 455h3v1h-3zM369 455h3v1h-3zM375 455h3v1h-3zM429 455h2v1h-2zM699 455h3v1h-3zM813 455h1v1h-1zM951 455h3v1h-3zM179 456h1v1h-1zM357 456h3v1h-3zM381 456h1v1h-1zM705 456h1v1h-1zM807 456h3v1h-3zM183 457h2v1h-2zM346 457h2v1h-2zM351 457h3v1h-3zM382 457h2v1h-2zM425 457h1v1h-1zM706 457h2v1h-2zM802 457h2v1h-2zM185 458h1v1h-1zM339 458h3v1h-3zM345 458h1v1h-1zM387 458h3v1h-3zM423 458h2v1h-2zM711 458h3v1h-3zM801 458h1v1h-1zM189 459h1v1h-1zM333 459h3v1h-3zM393 459h1v1h-1zM717 459h1v1h-1zM795 459h3v1h-3zM190 460h2v1h-2zM327 460h3v1h-3zM394 460h2v1h-2zM418 460h2v1h-2zM718 460h2v1h-2zM791 460h1v1h-1zM195 461h3v1h-3zM201 461h3v1h-3zM207 461h3v1h-3zM213 461h3v1h-3zM219 461h3v1h-3zM225 461h3v1h-3zM231 461h3v1h-3zM249 461h3v1h-3zM255 461h3v1h-3zM261 461h3v1h-3zM267 461h3v1h-3zM322 461h2v1h-2zM399 461h3v1h-3zM417 461h1v1h-1zM789 461h2v1h-2zM237 462h3v1h-3zM243 462h3v1h-3zM273 462h3v1h-3zM279 462h3v1h-3zM315 462h3v1h-3zM321 462h1v1h-1zM405 462h3v1h-3zM411 462h3v1h-3zM723 462h3v1h-3zM285 463h3v1h-3zM309 463h3v1h-3zM729 463h1v1h-1zM783 463h3v1h-3zM291 464h3v1h-3zM297 464h3v1h-3zM303 464h3v1h-3zM730 464h2v1h-2zM735 464h3v1h-3zM741 465h1v1h-1zM778 465h2v1h-2zM742 466h2v1h-2zM777 466h1v1h-1zM747 467h3v1h-3zM771 467h3v1h-3zM753 468h1v1h-1zM766 468h2v1h-2zM754 469h2v1h-2zM759 469h3v1h-3zM765 469h1v1h-1z"/>
<path fill="#1e90ff" d="M5 525h1v2h-1zM8 524h1v2h-1zM9 526h1v2h-1zM10 528h1v2h-1zM13 527h1v2h-1zM21 518h1v2h-1zM35 518h1v2h-1zM36 520h1v4h-1zM37 524h1v3h-1zM38 527h1v4h-1zM39 531h1v2h-1zM44 530h1v2h-1zM45 528h1v2h-1zM46 526h1v2h-1zM59 525h1v2h-1zM60 527h1v2h-1zM61 529h1v2h-1zM62 531h1v2h-1zM63 533h1v2h-1zM64 532h1v2h-1zM65 530h1v2h-1zM66 528h1v2h-1zM69 529h1v2h-1zM100 533h1v2h-1zM102 530h1v2h-1zM111 529h1v2h-1zM112 531h1v2h-1zM113 533h1v3h-1zM114 536h1v2h-1zM115 538h1v2h-1zM116 535h1v3h-1zM117 533h1v2h-1zM118 530h1v3h-1zM119 528h1v2h-1zM140 529h1v2h-1zM142 532h1v2h-1zM155 535h1v2h-1zM156 537h1v2h-1zM157 539h1v2h-1zM158 541h1v2h-1zM161 545h1v2h-1zM165 550h1v2h-1zM172 550h1v2h-1zM174 547h1v2h-1zM200 540h1v2h-1zM202 543h1v2h-1zM211 549h1v2h-1zM212 546h1v3h-1zM213 543h1v3h-1zM214 540h1v3h-1zM215 538h1v2h-1zM225 538h1v2h-1zM233 544h1v2h-1zM235 546h1v2h-1zM236 544h1v2h-1zM237 541h1v3h-1zM238 539h1v2h-1zM239 537h1v2h-1zM252 541h1v2h-1zM253 539h1v2h-1zM254 537h1v2h-1zM256 537h1v2h-1zM258 540h1v2h-1zM281 543h1v2h-1zM308 537h1v2h-1zM309 539h1v2h-1zM310 541h1v2h-1zM317 539h1v2h-1zM321 534h1v2h-1zM332 532h1v2h-1zM333 534h1v2h-1zM334 536h1v2h-1zM349 534h1v2h-1zM353 534h1v2h-1zM356 535h1v2h-1zM358 532h1v2h-1zM367 536h1v2h-1zM368 538h1v2h-1zM369 540h1v2h-1zM370 542h1v2h-1zM371 544h1v2h-1zM376 548h1v2h-1zM377 550h1v2h-1zM378 552h1v2h-1zM387 552h1v2h-1zM388 549h1v3h-1zM389 546h1v3h-1zM390 543h1v3h-1zM391 541h1v2h-1zM392 539h1v2h-1zM394 536h1v2h-1zM403 535h1v2h-1zM404 533h1v2h-1zM405 531h1v2h-1zM406 529h1v2h-1zM407 527h1v2h-1zM428 517h1v2h-1zM430 514h1v2h-1zM440 518h1v2h-1zM441 520h1v2h-1zM442 522h1v2h-1zM464 527h1v2h-1zM465 529h1v2h-1zM466 531h1v2h-1zM472 530h1v2h-1zM473 532h1v2h-1zM474 534h1v2h-1zM495 540h1v2h-1zM496 538h1v2h-1zM497 535h1v3h-1zM498 533h1v2h-1zM499 531h1v2h-1zM513 534h1v2h-1zM516 538h1v2h-1zM517 540h1v2h-1zM518 542h1v2h-1zM519 543h1v2h-1zM520 541h1v2h-1zM521 539h1v2h-1zM522 537h1v2h-1zM525 533h1v2h-1zM545 526h1v2h-1zM555 527h1v2h-1zM556 525h1v2h-1zM557 523h1v2h-1zM558 521h1v2h-1zM564 521h1v2h-1zM566 518h1v2h-1zM584 513h1v2h-1zM586 510h1v2h-1zM591 506h1v2h-1zM592 508h1v2h-1zM593 510h1v2h-1zM594 512h1v2h-1zM595 514h1v2h-1zM631 512h1v3h-1zM632 515h1v4h-1zM633 519h1v4h-1zM634 523h1v4h-1zM635 527h1v2h-1zM637 525h1v2h-1zM639 523h1v2h-1zM640 525h1v2h-1zM641 527h1v2h-1zM642 529h1v2h-1zM643 531h1v2h-1zM656 531h1v2h-1zM658 534h1v2h-1zM668 542h1v2h-1zM670 539h1v2h-1zM681 537h1v2h-1zM720 554h1v2h-1zM722 551h1v2h-1zM741 557h1v2h-1zM748 554h1v2h-1zM749 552h1v2h-1zM750 550h1v2h-1zM751 548h1v2h-1zM752 545h1v3h-1zM753 542h1v3h-1zM754 539h1v3h-1zM755 537h1v2h-1zM756 535h1v2h-1zM758 532h1v2h-1zM779 537h1v2h-1zM780 535h1v2h-1zM781 533h1v2h-1zM782 531h1v2h-1zM789 531h1v2h-1zM800 535h1v2h-1zM801 533h1v2h-1zM802 531h1v2h-1zM804 528h1v2h-1zM805 526h1v2h-1zM806 524h1v2h-1zM843 518h1v2h-1zM844 520h1v3h-1zM845 523h1v3h-1zM846 526h1v3h-1zM847 529h1v2h-1zM848 528h1v2h-1zM850 525h1v2h-1zM856 528h1v2h-1zM857 530h1v2h-1zM858 532h1v2h-1zM875 526h1v2h-1zM876 524h1v2h-1zM877 522h1v2h-1zM878 520h1v2h-1zM879 518h1v2h-1zM883 518h1v2h-1zM884 520h1v3h-1zM885 523h1v2h-1zM886 525h1v3h-1zM887 528h1v2h-1zM901 529h1v2h-1zM908 529h1v2h-1zM910 532h1v2h-1zM917 533h1v2h-1zM925 537h1v2h-1zM927 540h1v2h-1zM928 542h1v2h-1zM929 544h1v2h-1zM930 546h1v2h-1zM939 547h1v2h-1zM940 545h1v2h-1zM941 542h1v3h-1zM942 540h1v2h-1zM943 537h1v3h-1zM944 535h1v2h-1zM945 533h1v2h-1zM946 531h1v2h-1zM590 507h1v1h-1zM588 508h2v1h-2zM587 509h1v1h-1zM611 510h1v1h-1zM619 510h3v1h-3zM609 511h2v1h-2zM612 511h2v1h-2zM618 511h1v1h-1zM622 511h4v1h-4zM585 512h1v1h-1zM607 512h2v1h-2zM614 512h1v1h-1zM616 512h2v1h-2zM626 512h5v1h-5zM431 513h1v1h-1zM574 513h7v1h-7zM606 513h1v1h-1zM615 513h1v1h-1zM432 514h2v1h-2zM571 514h3v1h-3zM581 514h2v1h-2zM604 514h2v1h-2zM26 515h2v1h-2zM434 515h1v1h-1zM570 515h1v1h-1zM583 515h1v1h-1zM596 515h8v1h-8zM23 516h3v1h-3zM28 516h2v1h-2zM429 516h1v1h-1zM435 516h3v1h-3zM568 516h2v1h-2zM22 517h1v1h-1zM30 517h1v1h-1zM438 517h2v1h-2zM567 517h1v1h-1zM839 517h3v1h-3zM31 518h4v1h-4zM831 518h2v1h-2zM838 518h1v1h-1zM842 518h1v1h-1zM880 518h3v1h-3zM427 519h1v1h-1zM830 519h1v1h-1zM833 519h2v1h-2zM836 519h2v1h-2zM20 520h1v1h-1zM426 520h1v1h-1zM559 520h1v1h-1zM565 520h1v1h-1zM828 520h2v1h-2zM835 520h1v1h-1zM19 521h1v1h-1zM424 521h2v1h-2zM560 521h2v1h-2zM811 521h3v1h-3zM818 521h10v1h-10zM18 522h1v1h-1zM423 522h1v1h-1zM562 522h1v1h-1zM809 522h2v1h-2zM814 522h4v1h-4zM7 523h1v1h-1zM17 523h1v1h-1zM422 523h1v1h-1zM563 523h1v1h-1zM807 523h2v1h-2zM6 524h1v1h-1zM16 524h1v1h-1zM421 524h1v1h-1zM443 524h1v1h-1zM547 524h3v1h-3zM638 524h1v1h-1zM851 524h1v1h-1zM15 525h1v1h-1zM47 525h3v1h-3zM58 525h1v1h-1zM420 525h1v1h-1zM444 525h2v1h-2zM546 525h1v1h-1zM550 525h2v1h-2zM852 525h2v1h-2zM14 526h1v1h-1zM50 526h8v1h-8zM419 526h1v1h-1zM446 526h1v1h-1zM450 526h4v1h-4zM458 526h6v1h-6zM552 526h2v1h-2zM854 526h1v1h-1zM4 527h1v1h-1zM67 527h1v1h-1zM107 527h2v1h-2zM126 527h3v1h-3zM408 527h4v1h-4zM418 527h1v1h-1zM447 527h3v1h-3zM454 527h4v1h-4zM554 527h1v1h-1zM636 527h1v1h-1zM849 527h1v1h-1zM855 527h1v1h-1zM903 527h3v1h-3zM3 528h1v1h-1zM68 528h1v1h-1zM105 528h2v1h-2zM109 528h2v1h-2zM120 528h6v1h-6zM129 528h2v1h-2zM139 528h1v1h-1zM412 528h2v1h-2zM417 528h1v1h-1zM535 528h7v1h-7zM544 528h1v1h-1zM874 528h1v1h-1zM890 528h4v1h-4zM902 528h1v1h-1zM906 528h2v1h-2zM12 529h1v1h-1zM79 529h7v1h-7zM103 529h2v1h-2zM131 529h3v1h-3zM137 529h2v1h-2zM414 529h1v1h-1zM416 529h1v1h-1zM471 529h1v1h-1zM533 529h2v1h-2zM542 529h2v1h-2zM786 529h2v1h-2zM873 529h1v1h-1zM888 529h2v1h-2zM894 529h2v1h-2zM11 530h1v1h-1zM78 530h1v1h-1zM86 530h6v1h-6zM134 530h3v1h-3zM415 530h1v1h-1zM470 530h1v1h-1zM530 530h3v1h-3zM655 530h1v1h-1zM783 530h3v1h-3zM788 530h1v1h-1zM803 530h1v1h-1zM872 530h1v1h-1zM896 530h2v1h-2zM947 530h2v1h-2zM70 531h1v1h-1zM77 531h1v1h-1zM92 531h1v1h-1zM141 531h1v1h-1zM331 531h1v1h-1zM359 531h3v1h-3zM469 531h1v1h-1zM527 531h3v1h-3zM654 531h1v1h-1zM759 531h1v1h-1zM767 531h5v1h-5zM863 531h3v1h-3zM870 531h2v1h-2zM898 531h1v1h-1zM900 531h1v1h-1zM909 531h1v1h-1zM915 531h1v1h-1zM949 531h2v1h-2zM954 531h2v1h-2zM40 532h4v1h-4zM71 532h3v1h-3zM76 532h1v1h-1zM93 532h1v1h-1zM101 532h1v1h-1zM150 532h2v1h-2zM323 532h2v1h-2zM330 532h1v1h-1zM351 532h1v1h-1zM362 532h2v1h-2zM399 532h1v1h-1zM468 532h1v1h-1zM500 532h1v1h-1zM511 532h1v1h-1zM526 532h1v1h-1zM644 532h1v1h-1zM653 532h1v1h-1zM760 532h2v1h-2zM766 532h1v1h-1zM772 532h1v1h-1zM862 532h1v1h-1zM866 532h4v1h-4zM899 532h1v1h-1zM914 532h1v1h-1zM916 532h1v1h-1zM951 532h3v1h-3zM74 533h2v1h-2zM94 533h1v1h-1zM146 533h4v1h-4zM152 533h2v1h-2zM322 533h1v1h-1zM325 533h2v1h-2zM328 533h2v1h-2zM350 533h1v1h-1zM352 533h1v1h-1zM364 533h1v1h-1zM398 533h1v1h-1zM400 533h1v1h-1zM467 533h1v1h-1zM501 533h1v1h-1zM510 533h1v1h-1zM512 533h1v1h-1zM645 533h2v1h-2zM652 533h1v1h-1zM657 533h1v1h-1zM762 533h1v1h-1zM764 533h2v1h-2zM773 533h1v1h-1zM790 533h1v1h-1zM860 533h2v1h-2zM912 533h2v1h-2zM95 534h3v1h-3zM143 534h3v1h-3zM154 534h1v1h-1zM327 534h1v1h-1zM357 534h1v1h-1zM365 534h1v1h-1zM396 534h2v1h-2zM401 534h1v1h-1zM502 534h1v1h-1zM508 534h2v1h-2zM647 534h5v1h-5zM757 534h1v1h-1zM763 534h1v1h-1zM774 534h1v1h-1zM791 534h3v1h-3zM859 534h1v1h-1zM911 534h1v1h-1zM98 535h2v1h-2zM366 535h1v1h-1zM395 535h1v1h-1zM402 535h1v1h-1zM503 535h5v1h-5zM524 535h1v1h-1zM679 535h1v1h-1zM775 535h1v1h-1zM794 535h3v1h-3zM918 535h1v1h-1zM922 535h2v1h-2zM195 536h1v1h-1zM223 536h1v1h-1zM255 536h1v1h-1zM307 536h1v1h-1zM320 536h1v1h-1zM348 536h1v1h-1zM354 536h1v1h-1zM475 536h2v1h-2zM514 536h1v1h-1zM523 536h1v1h-1zM659 536h1v1h-1zM678 536h1v1h-1zM680 536h1v1h-1zM776 536h2v1h-2zM797 536h2v1h-2zM919 536h3v1h-3zM924 536h1v1h-1zM193 537h2v1h-2zM196 537h2v1h-2zM222 537h1v1h-1zM224 537h1v1h-1zM240 537h5v1h-5zM306 537h1v1h-1zM319 537h1v1h-1zM347 537h1v1h-1zM355 537h1v1h-1zM477 537h2v1h-2zM515 537h1v1h-1zM660 537h1v1h-1zM676 537h2v1h-2zM778 537h1v1h-1zM799 537h1v1h-1zM190 538h3v1h-3zM198 538h1v1h-1zM216 538h2v1h-2zM220 538h2v1h-2zM245 538h2v1h-2zM304 538h2v1h-2zM318 538h1v1h-1zM335 538h3v1h-3zM346 538h1v1h-1zM393 538h1v1h-1zM479 538h3v1h-3zM661 538h1v1h-1zM671 538h5v1h-5zM186 539h4v1h-4zM199 539h1v1h-1zM218 539h2v1h-2zM247 539h1v1h-1zM257 539h1v1h-1zM295 539h2v1h-2zM303 539h1v1h-1zM338 539h4v1h-4zM344 539h2v1h-2zM482 539h6v1h-6zM662 539h1v1h-1zM682 539h1v1h-1zM926 539h1v1h-1zM183 540h3v1h-3zM226 540h1v1h-1zM248 540h1v1h-1zM294 540h1v1h-1zM297 540h2v1h-2zM301 540h2v1h-2zM342 540h2v1h-2zM488 540h2v1h-2zM663 540h1v1h-1zM683 540h1v1h-1zM182 541h1v1h-1zM227 541h3v1h-3zM249 541h1v1h-1zM283 541h3v1h-3zM292 541h2v1h-2zM299 541h2v1h-2zM316 541h1v1h-1zM490 541h1v1h-1zM494 541h1v1h-1zM664 541h1v1h-1zM669 541h1v1h-1zM684 541h1v1h-1zM180 542h2v1h-2zM201 542h1v1h-1zM230 542h2v1h-2zM250 542h1v1h-1zM259 542h2v1h-2zM282 542h1v1h-1zM286 542h6v1h-6zM314 542h2v1h-2zM491 542h3v1h-3zM665 542h1v1h-1zM685 542h1v1h-1zM691 542h1v1h-1zM159 543h1v1h-1zM179 543h1v1h-1zM232 543h1v1h-1zM251 543h1v1h-1zM261 543h2v1h-2zM311 543h3v1h-3zM666 543h1v1h-1zM686 543h1v1h-1zM689 543h2v1h-2zM692 543h1v1h-1zM160 544h1v1h-1zM178 544h1v1h-1zM263 544h3v1h-3zM667 544h1v1h-1zM687 544h2v1h-2zM693 544h1v1h-1zM176 545h2v1h-2zM203 545h2v1h-2zM266 545h2v1h-2zM280 545h1v1h-1zM372 545h1v1h-1zM694 545h1v1h-1zM175 546h1v1h-1zM205 546h2v1h-2zM234 546h1v1h-1zM268 546h1v1h-1zM279 546h1v1h-1zM373 546h2v1h-2zM695 546h7v1h-7zM162 547h1v1h-1zM207 547h1v1h-1zM269 547h1v1h-1zM277 547h2v1h-2zM375 547h1v1h-1zM702 547h7v1h-7zM163 548h1v1h-1zM208 548h2v1h-2zM270 548h1v1h-1zM274 548h3v1h-3zM709 548h2v1h-2zM931 548h1v1h-1zM164 549h1v1h-1zM173 549h1v1h-1zM210 549h1v1h-1zM271 549h3v1h-3zM711 549h1v1h-1zM932 549h2v1h-2zM938 549h1v1h-1zM712 550h2v1h-2zM723 550h6v1h-6zM934 550h1v1h-1zM936 550h2v1h-2zM714 551h1v1h-1zM729 551h2v1h-2zM935 551h1v1h-1zM166 552h1v1h-1zM170 552h2v1h-2zM715 552h1v1h-1zM731 552h3v1h-3zM167 553h3v1h-3zM386 553h1v1h-1zM716 553h1v1h-1zM721 553h1v1h-1zM734 553h3v1h-3zM379 554h7v1h-7zM717 554h1v1h-1zM737 554h2v1h-2zM718 555h1v1h-1zM739 555h1v1h-1zM719 556h1v1h-1zM740 556h1v1h-1zM747 556h1v1h-1zM746 557h1v1h-1zM745 558h1v1h-1zM742 559h1v1h-1zM744 559h1v1h-1zM743 560h1v1h-1z"/>
</g>
<text y="439"><tspan x="1205.1" textLength="38.5" lengthAdjust="spacingAndGlyphs">0.006201</tspan></text>
<text y="451"><tspan x="1205.1" textLength="18.5" lengthAdjust="spacingAndGlyphs">0.00</tspan></text>
<text y="471.5"><tspan x="1205.1" textLength="41.5" lengthAdjust="spacingAndGlyphs">-0.009197</tspan></text>
<text y="487"><tspan x="1205.1" textLength="15.5" lengthAdjust="spacingAndGlyphs">100</tspan></text>
<text y="512"><tspan x="1204.8" textLength="10.5" lengthAdjust="spacingAndGlyphs">70</tspan></text>
<text y="553"><tspan x="1204.8" textLength="10.5" lengthAdjust="spacingAndGlyphs">30</tspan></text>
<text y="577"><tspan x="1205.2" textLength="5.5" lengthAdjust="spacingAndGlyphs">0</tspan></text>
<text y="441"><tspan x="7.3" textLength="66.5" lengthAdjust="spacingAndGlyphs">MACD(12,26,9)</tspan> <tspan x="76.3" textLength="41.5" lengthAdjust="spacingAndGlyphs">-0.003131</tspan> <tspan x="120.3" textLength="41.5" lengthAdjust="spacingAndGlyphs">-0.003046</tspan></text>
<text y="489"><tspan x="7.3" textLength="32.5" lengthAdjust="spacingAndGlyphs">RSI(14)</tspan> <tspan x="42.3" textLength="33.5" lengthAdjust="spacingAndGlyphs">47.1429</tspan></text>
<text y="593"><tspan x="2.1" textLength="5.5" lengthAdjust="spacingAndGlyphs">2</tspan> <tspan x="10.1" textLength="19.5" lengthAdjust="spacingAndGlyphs">May</tspan> <tspan x="32.1" textLength="20.5" lengthAdjust="spacingAndGlyphs">2021</tspan></text>
<text y="593"><tspan x="66.1" textLength="10.5" lengthAdjust="spacingAndGlyphs">20</tspan> <tspan x="79.1" textLength="19.5" lengthAdjust="spacingAndGlyphs">May</tspan> <tspan x="101.1" textLength="20.5" lengthAdjust="spacingAndGlyphs">2021</tspan></text>
<text y="593"><tspan x="130.1" textLength="5.5" lengthAdjust="spacingAndGlyphs">8</tspan> <tspan x="138.1" textLength="14.5" lengthAdjust="spacingAndGlyphs">Jun</tspan> <tspan x="155.1" textLength="20.5" lengthAdjust="spacingAndGlyphs">2021</tspan></text>
<text y="593"><tspan x="194.1" textLength="10.5" lengthAdjust="spacingAndGlyphs">27</tspan> <tspan x="207.1" textLength="14.5" lengthAdjust="spacingAndGlyphs">Jun</tspan> <tspan x="224.1" textLength="20.5" lengthAdjust="spacingAndGlyphs">2021</tspan></text>
<text y="593"><tspan x="258.1" textLength="10.5" lengthAdjust="spacingAndGlyphs">15</tspan> <tspan x="271.1" textLength="11.5" lengthAdjust="spacingAndGlyphs">Jul</tspan> <tspan x="285.1" textLength="20.5" lengthAdjust="spacingAndGlyphs">2021</tspan></text>
<text y="593"><tspan x="322.1" textLength="5.5" lengthAdjust="spacingAndGlyphs">3</tspan> <tspan x="330.1" textLength="17.5" lengthAdjust="spacingAndGlyphs">Aug</tspan> <tspan x="350.1" textLength="20.5" lengthAdjust="spacingAndGlyphs">2021</tspan></text>
<text y="593"><tspan x="386.1" textLength="10.5" lengthAdjust="spacingAndGlyphs">22</tspan> <tspan x="399.1" textLength="17.5" lengthAdjust="spacingAndGlyphs">Aug</tspan> <tspan x="419.1" textLength="20.5" lengthAdjust="spacingAndGlyphs">2021</tspan></text>
<text y="593"><tspan x="450.1" textLength="5.5" lengthAdjust="spacingAndGlyphs">9</tspan> <tspan x="458.1" textLength="16.5" lengthAdjust="spacingAndGlyphs">Sep</tspan> <tspan x="477.1" textLength="20.5" lengthAdjust="spacingAndGlyphs">2021</tspan></text>
<text y="593"><tspan x="514.1" textLength="10.5" lengthAdjust="spacingAndGlyphs">28</tspan> <tspan x="527.1" textLength="16.5" lengthAdjust="spacingAndGlyphs">Sep</tspan> <tspan x="546.1" textLength="20.5" lengthAdjust="spacingAndGlyphs">2021</tspan></text>
<text y="593"><tspan x="578.1" textLength="10.5" lengthAdjust="spacingAndGlyphs">17</tspan> <tspan x="591.1" textLength="15.5" lengthAdjust="spacingAndGlyphs">Oct</tspan> <tspan x="609.1" textLength="20.5" lengthAdjust="spacingAndGlyphs">2021</tspan></text>
<text y="593"><tspan x="642.1" textLength="5.5" lengthAdjust="spacingAndGlyphs">4</tspan> <tspan x="650.1" textLength="18.5" lengthAdjust="spacingAndGlyphs">Nov</tspan> <tspan x="671.1" textLength="20.5" lengthAdjust="spacingAndGlyphs">2021</tspan></text>
<text y="593"><tspan x="706.1" textLength="10.5" lengthAdjust="spacingAndGlyphs">23</tspan> <tspan x="719.1" textLength="18.5" lengthAdjust="spacingAndGlyphs">Nov</tspan> <tspan x="740.1" textLength="20.5" lengthAdjust="spacingAndGlyphs">2021</tspan></text>
<text y="593"><tspan x="770.1" textLength="10.5" lengthAdjust="spacingAndGlyphs">12</tspan> <tspan x="783.1" textLength="16.5" lengthAdjust="spacingAndGlyphs">Dec</tspan> <tspan x="802.1" textLength="20.5" lengthAdjust="spacingAndGlyphs">2021</tspan></text>
<text y="593"><tspan x="834.1" textLength="10.5" lengthAdjust="spacingAndGlyphs">30</tspan> <tspan x="847.1" textLength="16.5" lengthAdjust="spacingAndGlyphs">Dec</tspan> <tspan x="866.1" textLength="20.5" lengthAdjust="spacingAndGlyphs">2021</tspan></text>
<text y="593"><tspan x="898.1" textLength="10.5" lengthAdjust="spacingAndGlyphs">18</tspan> <tspan x="911.1" textLength="14.5" lengthAdjust="spacingAndGlyphs">Jan</tspan> <tspan x="928.1" textLength="20.5" lengthAdjust="spacingAndGlyphs">2022</tspan></text>
<g shape-rendering="crispEdges">
<rect x="0" y="601" width="1243" height="1" fill="#e3e3e3"/>
<rect x="0" y="603" width="1243" height="1" fill="#000"/>
<rect x="0" y="604" width="1243" height="1" fill="#fff"/>
<rect x="0" y="605" width="1243" height="18" fill="#f0f0f0"/>
<rect x="0" y="623" width="1243" height="1" fill="#fafafa"/>
<rect x="112" y="603" width="108" height="19" fill="#000"/>
<rect x="113" y="603" width="106" height="18" fill="#fff"/>
<rect x="328" y="606" width="1" height="14" fill="#696969"/>
<rect x="436" y="606" width="1" height="14" fill="#696969"/>
<rect x="548" y="606" width="1" height="14" fill="#696969"/>
<path fill="#808080" d="M1217 612h1v1h-1zM1218 611h1v3h-1zM1219 610h1v5h-1zM1220 609h1v7h-1zM1236 609h1v7h-1zM1237 610h1v5h-1zM1238 611h1v3h-1zM1239 612h1v1h-1z"/>
</g>
<text y="618" class="tab" style="fill:#6a6a6a;stroke:#6a6a6a"><tspan x="15.3" textLength="86.5" lengthAdjust="spacingAndGlyphs">EURUSD-,Daily</tspan></text>
<text y="618" class="tab"><tspan x="122" textLength="88.5" lengthAdjust="spacingAndGlyphs">AUDUSD-,Daily</tspan></text>
<text y="618" class="tab" style="fill:#6a6a6a;stroke:#6a6a6a"><tspan x="232.4" textLength="86.5" lengthAdjust="spacingAndGlyphs">USDCHF-,Daily</tspan></text>
<text y="618" class="tab" style="fill:#6a6a6a;stroke:#6a6a6a"><tspan x="339" textLength="87.5" lengthAdjust="spacingAndGlyphs">USDCAD-,Daily</tspan></text>
<text y="618" class="tab" style="fill:#6a6a6a;stroke:#6a6a6a"><tspan x="448.4" textLength="88.5" lengthAdjust="spacingAndGlyphs">USDCNH-,Daily</tspan></text>
</svg>
</body></html>
